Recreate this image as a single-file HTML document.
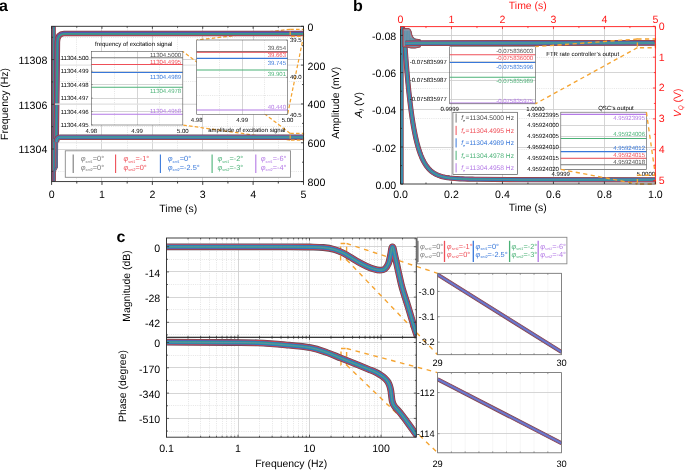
<!DOCTYPE html>
<html><head><meta charset="utf-8"><style>
html,body{margin:0;padding:0;background:#fff;overflow:hidden;}
svg{display:block;will-change:transform;}
text{font-family:"Liberation Sans", sans-serif;text-rendering:geometricPrecision;}
</style></head><body>
<svg width="685" height="470" viewBox="0 0 685 470">
<defs>
<clipPath id="cm"><rect x="166.5" y="238.0" width="249.8" height="99.30000000000001"/></clipPath>
<clipPath id="cp"><rect x="166.5" y="337.3" width="249.8" height="99.89999999999998"/></clipPath>
<clipPath id="ca"><rect x="51.6" y="26.3" width="251.9" height="155.29999999999998"/></clipPath>
<clipPath id="cb"><rect x="400.5" y="26.6" width="254.89999999999998" height="157.4"/></clipPath>
<clipPath id="ci273"><rect x="437.6" y="273.3" width="124" height="81.4"/></clipPath>
<clipPath id="ci372"><rect x="437.6" y="372.6" width="124" height="80.2"/></clipPath>
</defs>
<rect width="685" height="470" fill="#fff"/>
<line x1="76.5" y1="26.3" x2="76.5" y2="181.6" stroke="#dedede" stroke-width="0.8" stroke-dasharray="1,1.2"/>
<line x1="101.5" y1="26.3" x2="101.5" y2="181.6" stroke="#cdcdcd" stroke-width="0.85"/>
<line x1="127.5" y1="26.3" x2="127.5" y2="181.6" stroke="#dedede" stroke-width="0.8" stroke-dasharray="1,1.2"/>
<line x1="152.5" y1="26.3" x2="152.5" y2="181.6" stroke="#cdcdcd" stroke-width="0.85"/>
<line x1="177.5" y1="26.3" x2="177.5" y2="181.6" stroke="#dedede" stroke-width="0.8" stroke-dasharray="1,1.2"/>
<line x1="202.5" y1="26.3" x2="202.5" y2="181.6" stroke="#cdcdcd" stroke-width="0.85"/>
<line x1="227.5" y1="26.3" x2="227.5" y2="181.6" stroke="#dedede" stroke-width="0.8" stroke-dasharray="1,1.2"/>
<line x1="253.5" y1="26.3" x2="253.5" y2="181.6" stroke="#cdcdcd" stroke-width="0.85"/>
<line x1="278.5" y1="26.3" x2="278.5" y2="181.6" stroke="#dedede" stroke-width="0.8" stroke-dasharray="1,1.2"/>
<line x1="51.6" y1="171.5" x2="303.5" y2="171.5" stroke="#dedede" stroke-width="0.8" stroke-dasharray="1,1.2"/>
<line x1="51.6" y1="149.5" x2="303.5" y2="149.5" stroke="#cdcdcd" stroke-width="0.85"/>
<line x1="51.6" y1="126.5" x2="303.5" y2="126.5" stroke="#dedede" stroke-width="0.8" stroke-dasharray="1,1.2"/>
<line x1="51.6" y1="104.5" x2="303.5" y2="104.5" stroke="#cdcdcd" stroke-width="0.85"/>
<line x1="51.6" y1="81.5" x2="303.5" y2="81.5" stroke="#dedede" stroke-width="0.8" stroke-dasharray="1,1.2"/>
<line x1="51.6" y1="59.5" x2="303.5" y2="59.5" stroke="#cdcdcd" stroke-width="0.85"/>
<line x1="51.6" y1="37.5" x2="303.5" y2="37.5" stroke="#dedede" stroke-width="0.8" stroke-dasharray="1,1.2"/>
<line x1="51.6" y1="65.12" x2="303.5" y2="65.12" stroke="#e6e6e6" stroke-width="1.1"/>
<line x1="51.6" y1="103.95" x2="303.5" y2="103.95" stroke="#e6e6e6" stroke-width="1.1"/>
<line x1="51.6" y1="142.77" x2="303.5" y2="142.77" stroke="#e6e6e6" stroke-width="1.1"/>
<line x1="290.2" y1="29.3" x2="196.7" y2="40" stroke="#f5a431" stroke-width="1.25" stroke-dasharray="3.6,2.2"/>
<line x1="303.5" y1="36.3" x2="287.6" y2="114.4" stroke="#f5a431" stroke-width="1.25" stroke-dasharray="3.6,2.2"/>
<line x1="290.2" y1="133.4" x2="182.8" y2="51.4" stroke="#f5a431" stroke-width="1.25" stroke-dasharray="3.6,2.2"/>
<line x1="290.2" y1="140.2" x2="182.8" y2="125" stroke="#f5a431" stroke-width="1.25" stroke-dasharray="3.6,2.2"/>
<g clip-path="url(#ca)">
<path d="M53.8,26.3 L53.8,181.6" stroke="#7a3a48" stroke-width="3.96" fill="none" stroke-linejoin="round" stroke-linecap="butt"/>
<path d="M53.8,26.3 L53.8,181.6" stroke="#b94a5c" stroke-width="3.168" fill="none" stroke-linejoin="round" stroke-linecap="butt"/>
<path d="M53.8,26.3 L53.8,181.6" stroke="#5058b0" stroke-width="2.244" fill="none" stroke-linejoin="round" stroke-linecap="butt" transform="translate(0,-0.3)"/>
<path d="M53.8,26.3 L53.8,181.6" stroke="#3a9a8c" stroke-width="1.32" fill="none" stroke-linejoin="round" stroke-linecap="butt" transform="translate(0,0.3)"/>
</g>
<g clip-path="url(#ca)">
<path d="M56.2,139 L57.1,70 L57.4,42 Q57.6,33.7 64,33.6 L303.5,33.6" stroke="#7a3a48" stroke-width="5.5200000000000005" fill="none" stroke-linejoin="round" stroke-linecap="butt"/>
<path d="M56.2,139 L57.1,70 L57.4,42 Q57.6,33.7 64,33.6 L303.5,33.6" stroke="#b94a5c" stroke-width="4.416" fill="none" stroke-linejoin="round" stroke-linecap="butt"/>
<path d="M56.2,139 L57.1,70 L57.4,42 Q57.6,33.7 64,33.6 L303.5,33.6" stroke="#5058b0" stroke-width="3.128" fill="none" stroke-linejoin="round" stroke-linecap="butt" transform="translate(0,-0.3)"/>
<path d="M56.2,139 L57.1,70 L57.4,42 Q57.6,33.7 64,33.6 L303.5,33.6" stroke="#3a9a8c" stroke-width="1.84" fill="none" stroke-linejoin="round" stroke-linecap="butt" transform="translate(0,0.3)"/>
</g>
<g clip-path="url(#ca)">
<path d="M54.2,181.6 L54.2,172 L56.9,167 L57.1,141.5" stroke="#7a3a48" stroke-width="2.0999999999999996" fill="none" stroke-linejoin="round" stroke-linecap="butt"/>
<path d="M54.2,181.6 L54.2,172 L56.9,167 L57.1,141.5" stroke="#b94a5c" stroke-width="1.68" fill="none" stroke-linejoin="round" stroke-linecap="butt"/>
<path d="M54.2,181.6 L54.2,172 L56.9,167 L57.1,141.5" stroke="#5058b0" stroke-width="1.19" fill="none" stroke-linejoin="round" stroke-linecap="butt" transform="translate(0,-0.3)"/>
<path d="M54.2,181.6 L54.2,172 L56.9,167 L57.1,141.5" stroke="#3a9a8c" stroke-width="0.7" fill="none" stroke-linejoin="round" stroke-linecap="butt" transform="translate(0,0.3)"/>
</g>
<g clip-path="url(#ca)">
<path d="M56.4,142 Q56.8,137.2 60,137.2 L303.5,137.2" stroke="#5e4a55" stroke-width="5.44" fill="none" stroke-linejoin="round" stroke-linecap="butt"/>
<path d="M56.4,142 Q56.8,137.2 60,137.2 L303.5,137.2" stroke="#c9444f" stroke-width="4.4799999999999995" fill="none" stroke-linejoin="round" stroke-linecap="butt"/>
<path d="M56.4,142 Q56.8,137.2 60,137.2 L303.5,137.2" stroke="#2e6fd0" stroke-width="3.2" fill="none" stroke-linejoin="round" stroke-linecap="butt"/>
<path d="M56.4,142 Q56.8,137.2 60,137.2 L303.5,137.2" stroke="#2f9a98" stroke-width="2.08" fill="none" stroke-linejoin="round" stroke-linecap="butt"/>
<path d="M56.4,142 Q56.8,137.2 60,137.2 L303.5,137.2" stroke="#6f8ca0" stroke-width="0.6400000000000001" fill="none" stroke-linejoin="round" stroke-linecap="butt"/>
</g>
<rect x="290.2" y="29.3" width="13.3" height="7" fill="none" stroke="#f5a431" stroke-width="1.25" stroke-dasharray="3.6,2.2"/>
<rect x="290.2" y="133.4" width="13.3" height="6.8" fill="none" stroke="#f5a431" stroke-width="1.25" stroke-dasharray="3.6,2.2"/>
<rect x="91.3" y="51.4" width="91.5" height="73.6" fill="#fff" stroke="none" stroke-width="1"/>
<line x1="114.5" y1="51.4" x2="114.5" y2="125" stroke="#dedede" stroke-width="0.8" stroke-dasharray="1,1.2"/>
<line x1="137.5" y1="51.4" x2="137.5" y2="125" stroke="#cdcdcd" stroke-width="0.85"/>
<line x1="159.5" y1="51.4" x2="159.5" y2="125" stroke="#dedede" stroke-width="0.8" stroke-dasharray="1,1.2"/>
<line x1="55" y1="104.1" x2="182.8" y2="104.1" stroke="#e2e2e2" stroke-width="1.4"/>
<line x1="91.3" y1="71.5" x2="182.8" y2="71.5" stroke="#cdcdcd" stroke-width="0.85"/>
<line x1="91.3" y1="84.5" x2="182.8" y2="84.5" stroke="#cdcdcd" stroke-width="0.85"/>
<line x1="91.3" y1="98.5" x2="182.8" y2="98.5" stroke="#cdcdcd" stroke-width="0.85"/>
<line x1="91.3" y1="111.5" x2="182.8" y2="111.5" stroke="#cdcdcd" stroke-width="0.85"/>
<line x1="91.3" y1="57.7" x2="182.8" y2="57.7" stroke="#7a7a7a" stroke-width="1.1"/>
<text x="181.2" y="57.1" font-size="6.0" text-anchor="end" fill="#4d4d4d">11304.5000</text>
<line x1="91.3" y1="64.43" x2="182.8" y2="64.43" stroke="#ef4f58" stroke-width="1.1"/>
<text x="181.2" y="63.7" font-size="6.0" text-anchor="end" fill="#ef4f58">11304.4995</text>
<line x1="91.3" y1="72.51" x2="182.8" y2="72.51" stroke="#3878da" stroke-width="1.1"/>
<text x="181.2" y="78.5" font-size="6.0" text-anchor="end" fill="#3878da">11304.4989</text>
<line x1="91.3" y1="87.31" x2="182.8" y2="87.31" stroke="#4bb277" stroke-width="1.1"/>
<text x="181.2" y="93.4" font-size="6.0" text-anchor="end" fill="#4bb277">11304.4978</text>
<line x1="91.3" y1="114.23" x2="182.8" y2="114.23" stroke="#b47ae6" stroke-width="1.1"/>
<text x="181.2" y="112.8" font-size="6.0" text-anchor="end" fill="#b47ae6">11304.4958</text>
<rect x="91.3" y="51.4" width="91.5" height="73.6" fill="none" stroke="#555" stroke-width="0.6"/>
<text x="88.6" y="59.8" font-size="6.0" text-anchor="end" fill="#000">11304.500</text>
<line x1="91.3" y1="57.7" x2="92.8" y2="57.7" stroke="#555" stroke-width="0.5"/>
<text x="88.6" y="73.26" font-size="6.0" text-anchor="end" fill="#000">11304.499</text>
<line x1="91.3" y1="71.16" x2="92.8" y2="71.16" stroke="#555" stroke-width="0.5"/>
<text x="88.6" y="86.72" font-size="6.0" text-anchor="end" fill="#000">11304.498</text>
<line x1="91.3" y1="84.62" x2="92.8" y2="84.62" stroke="#555" stroke-width="0.5"/>
<text x="88.6" y="100.18" font-size="6.0" text-anchor="end" fill="#000">11304.497</text>
<line x1="91.3" y1="98.08" x2="92.8" y2="98.08" stroke="#555" stroke-width="0.5"/>
<text x="88.6" y="113.64" font-size="6.0" text-anchor="end" fill="#000">11304.496</text>
<line x1="91.3" y1="111.54" x2="92.8" y2="111.54" stroke="#555" stroke-width="0.5"/>
<text x="88.6" y="127.1" font-size="6.0" text-anchor="end" fill="#000">11304.495</text>
<line x1="91.3" y1="125" x2="92.8" y2="125" stroke="#555" stroke-width="0.5"/>
<text x="91.3" y="132.5" font-size="6.0" text-anchor="middle" fill="#000">4.98</text>
<text x="137.05" y="132.5" font-size="6.0" text-anchor="middle" fill="#000">4.99</text>
<text x="182.8" y="132.5" font-size="6.0" text-anchor="middle" fill="#000">5.00</text>
<text x="133.7" y="45.6" font-size="6.0" text-anchor="middle" fill="#000">frequency of excitation signal</text>
<rect x="196.7" y="40" width="90.9" height="74.4" fill="#fff" stroke="none" stroke-width="1"/>
<line x1="219.5" y1="40" x2="219.5" y2="114.4" stroke="#dedede" stroke-width="0.8" stroke-dasharray="1,1.2"/>
<line x1="242.5" y1="40" x2="242.5" y2="114.4" stroke="#cdcdcd" stroke-width="0.85"/>
<line x1="264.5" y1="40" x2="264.5" y2="114.4" stroke="#dedede" stroke-width="0.8" stroke-dasharray="1,1.2"/>
<line x1="196.7" y1="58.5" x2="287.6" y2="58.5" stroke="#dedede" stroke-width="0.8" stroke-dasharray="1,1.2"/>
<line x1="196.7" y1="95.5" x2="287.6" y2="95.5" stroke="#dedede" stroke-width="0.8" stroke-dasharray="1,1.2"/>
<line x1="196.7" y1="77.5" x2="287.6" y2="77.5" stroke="#cdcdcd" stroke-width="0.85"/>
<line x1="196.7" y1="51.63" x2="287.6" y2="51.63" stroke="#7a7a7a" stroke-width="1.1"/>
<text x="286" y="49.6" font-size="6.0" text-anchor="end" fill="#4d4d4d">39.654</text>
<line x1="196.7" y1="52.29" x2="287.6" y2="52.29" stroke="#ef4f58" stroke-width="1.1"/>
<text x="286" y="56.6" font-size="6.0" text-anchor="end" fill="#ef4f58">39.663</text>
<line x1="196.7" y1="58.38" x2="287.6" y2="58.38" stroke="#3878da" stroke-width="1.1"/>
<text x="286" y="65.4" font-size="6.0" text-anchor="end" fill="#3878da">39.745</text>
<line x1="196.7" y1="69.95" x2="287.6" y2="69.95" stroke="#4bb277" stroke-width="1.1"/>
<text x="286" y="75.9" font-size="6.0" text-anchor="end" fill="#4bb277">39.901</text>
<line x1="196.7" y1="109.95" x2="287.6" y2="109.95" stroke="#b47ae6" stroke-width="1.1"/>
<text x="286" y="109" font-size="6.0" text-anchor="end" fill="#b47ae6">40.440</text>
<rect x="196.7" y="40" width="90.9" height="74.4" fill="none" stroke="#555" stroke-width="0.6"/>
<text x="290" y="42.3" font-size="6.0" text-anchor="start" fill="#000">39.5</text>
<line x1="287.6" y1="40.2" x2="286.1" y2="40.2" stroke="#555" stroke-width="0.5"/>
<text x="290" y="79.4" font-size="6.0" text-anchor="start" fill="#000">40.0</text>
<line x1="287.6" y1="77.3" x2="286.1" y2="77.3" stroke="#555" stroke-width="0.5"/>
<text x="290" y="116.5" font-size="6.0" text-anchor="start" fill="#000">40.5</text>
<line x1="287.6" y1="114.4" x2="286.1" y2="114.4" stroke="#555" stroke-width="0.5"/>
<text x="196.7" y="121.9" font-size="6.0" text-anchor="middle" fill="#000">4.98</text>
<text x="242.15" y="121.9" font-size="6.0" text-anchor="middle" fill="#000">4.99</text>
<text x="287.6" y="121.9" font-size="6.0" text-anchor="middle" fill="#000">5.00</text>
<text x="246.8" y="132.3" font-size="6.0" text-anchor="middle" fill="#000">amplitude of excitation signal</text>
<rect x="65.3" y="150.8" width="225.2" height="26.5" fill="#fff" stroke="#8a8a8a" stroke-width="0.9"/>
<line x1="73.2" y1="154.4" x2="73.2" y2="173" stroke="#7a7a7a" stroke-width="1.1"/>
<text x="80.7" y="161.2" font-size="7.4" fill="#7a7a7a"><tspan font-style="italic">φ</tspan><tspan font-size="3.8" font-style="italic" dy="1.6">set1</tspan><tspan dy="-1.6">=0°</tspan></text>
<text x="80.7" y="169.8" font-size="7.4" fill="#7a7a7a"><tspan font-style="italic">φ</tspan><tspan font-size="3.8" font-style="italic" dy="1.6">set2</tspan><tspan dy="-1.6">=0°</tspan></text>
<line x1="115.6" y1="154.4" x2="115.6" y2="173" stroke="#ef4f58" stroke-width="1.1"/>
<text x="123.4" y="161.2" font-size="7.4" fill="#ef4f58"><tspan font-style="italic">φ</tspan><tspan font-size="3.8" font-style="italic" dy="1.6">set1</tspan><tspan dy="-1.6">=-1°</tspan></text>
<text x="123.4" y="169.8" font-size="7.4" fill="#ef4f58"><tspan font-style="italic">φ</tspan><tspan font-size="3.8" font-style="italic" dy="1.6">set2</tspan><tspan dy="-1.6">=0°</tspan></text>
<line x1="160.4" y1="154.4" x2="160.4" y2="173" stroke="#3878da" stroke-width="1.1"/>
<text x="167.7" y="161.2" font-size="7.4" fill="#3878da"><tspan font-style="italic">φ</tspan><tspan font-size="3.8" font-style="italic" dy="1.6">set1</tspan><tspan dy="-1.6">=0°</tspan></text>
<text x="167.7" y="169.8" font-size="7.4" fill="#3878da"><tspan font-style="italic">φ</tspan><tspan font-size="3.8" font-style="italic" dy="1.6">set2</tspan><tspan dy="-1.6">=-2.5°</tspan></text>
<line x1="212.1" y1="154.4" x2="212.1" y2="173" stroke="#4bb277" stroke-width="1.1"/>
<text x="217.4" y="161.2" font-size="7.4" fill="#4bb277"><tspan font-style="italic">φ</tspan><tspan font-size="3.8" font-style="italic" dy="1.6">set1</tspan><tspan dy="-1.6">=-2°</tspan></text>
<text x="217.4" y="169.8" font-size="7.4" fill="#4bb277"><tspan font-style="italic">φ</tspan><tspan font-size="3.8" font-style="italic" dy="1.6">set2</tspan><tspan dy="-1.6">=-3°</tspan></text>
<line x1="255.8" y1="154.4" x2="255.8" y2="173" stroke="#b47ae6" stroke-width="1.1"/>
<text x="260.7" y="161.2" font-size="7.4" fill="#b47ae6"><tspan font-style="italic">φ</tspan><tspan font-size="3.8" font-style="italic" dy="1.6">set1</tspan><tspan dy="-1.6">=-6°</tspan></text>
<text x="260.7" y="169.8" font-size="7.4" fill="#b47ae6"><tspan font-style="italic">φ</tspan><tspan font-size="3.8" font-style="italic" dy="1.6">set2</tspan><tspan dy="-1.6">=-4°</tspan></text>
<rect x="51.6" y="26.3" width="251.9" height="155.3" fill="none" stroke="#2a2a2a" stroke-width="0.9"/>
<line x1="51.6" y1="181.6" x2="51.6" y2="184.9" stroke="#2a2a2a" stroke-width="0.9"/>
<line x1="51.6" y1="26.3" x2="51.6" y2="28.8" stroke="#2a2a2a" stroke-width="0.8"/>
<line x1="76.79" y1="181.6" x2="76.79" y2="183.5" stroke="#2a2a2a" stroke-width="0.9"/>
<line x1="76.79" y1="26.3" x2="76.79" y2="27.8" stroke="#2a2a2a" stroke-width="0.8"/>
<line x1="101.98" y1="181.6" x2="101.98" y2="184.9" stroke="#2a2a2a" stroke-width="0.9"/>
<line x1="101.98" y1="26.3" x2="101.98" y2="28.8" stroke="#2a2a2a" stroke-width="0.8"/>
<line x1="127.17" y1="181.6" x2="127.17" y2="183.5" stroke="#2a2a2a" stroke-width="0.9"/>
<line x1="127.17" y1="26.3" x2="127.17" y2="27.8" stroke="#2a2a2a" stroke-width="0.8"/>
<line x1="152.36" y1="181.6" x2="152.36" y2="184.9" stroke="#2a2a2a" stroke-width="0.9"/>
<line x1="152.36" y1="26.3" x2="152.36" y2="28.8" stroke="#2a2a2a" stroke-width="0.8"/>
<line x1="177.55" y1="181.6" x2="177.55" y2="183.5" stroke="#2a2a2a" stroke-width="0.9"/>
<line x1="177.55" y1="26.3" x2="177.55" y2="27.8" stroke="#2a2a2a" stroke-width="0.8"/>
<line x1="202.74" y1="181.6" x2="202.74" y2="184.9" stroke="#2a2a2a" stroke-width="0.9"/>
<line x1="202.74" y1="26.3" x2="202.74" y2="28.8" stroke="#2a2a2a" stroke-width="0.8"/>
<line x1="227.93" y1="181.6" x2="227.93" y2="183.5" stroke="#2a2a2a" stroke-width="0.9"/>
<line x1="227.93" y1="26.3" x2="227.93" y2="27.8" stroke="#2a2a2a" stroke-width="0.8"/>
<line x1="253.12" y1="181.6" x2="253.12" y2="184.9" stroke="#2a2a2a" stroke-width="0.9"/>
<line x1="253.12" y1="26.3" x2="253.12" y2="28.8" stroke="#2a2a2a" stroke-width="0.8"/>
<line x1="278.31" y1="181.6" x2="278.31" y2="183.5" stroke="#2a2a2a" stroke-width="0.9"/>
<line x1="278.31" y1="26.3" x2="278.31" y2="27.8" stroke="#2a2a2a" stroke-width="0.8"/>
<line x1="303.5" y1="181.6" x2="303.5" y2="184.9" stroke="#2a2a2a" stroke-width="0.9"/>
<line x1="303.5" y1="26.3" x2="303.5" y2="28.8" stroke="#2a2a2a" stroke-width="0.8"/>
<line x1="51.6" y1="171.35" x2="53.1" y2="171.35" stroke="#2a2a2a" stroke-width="0.8"/>
<line x1="51.6" y1="149" x2="54.1" y2="149" stroke="#2a2a2a" stroke-width="0.8"/>
<line x1="51.6" y1="126.65" x2="53.1" y2="126.65" stroke="#2a2a2a" stroke-width="0.8"/>
<line x1="51.6" y1="104.3" x2="54.1" y2="104.3" stroke="#2a2a2a" stroke-width="0.8"/>
<line x1="51.6" y1="81.95" x2="53.1" y2="81.95" stroke="#2a2a2a" stroke-width="0.8"/>
<line x1="51.6" y1="59.6" x2="54.1" y2="59.6" stroke="#2a2a2a" stroke-width="0.8"/>
<line x1="51.6" y1="37.25" x2="53.1" y2="37.25" stroke="#2a2a2a" stroke-width="0.8"/>
<line x1="303.5" y1="26.3" x2="301" y2="26.3" stroke="#2a2a2a" stroke-width="0.8"/>
<line x1="303.5" y1="45.71" x2="302" y2="45.71" stroke="#2a2a2a" stroke-width="0.8"/>
<line x1="303.5" y1="65.12" x2="301" y2="65.12" stroke="#2a2a2a" stroke-width="0.8"/>
<line x1="303.5" y1="84.54" x2="302" y2="84.54" stroke="#2a2a2a" stroke-width="0.8"/>
<line x1="303.5" y1="103.95" x2="301" y2="103.95" stroke="#2a2a2a" stroke-width="0.8"/>
<line x1="303.5" y1="123.36" x2="302" y2="123.36" stroke="#2a2a2a" stroke-width="0.8"/>
<line x1="303.5" y1="142.77" x2="301" y2="142.77" stroke="#2a2a2a" stroke-width="0.8"/>
<line x1="303.5" y1="162.19" x2="302" y2="162.19" stroke="#2a2a2a" stroke-width="0.8"/>
<line x1="303.5" y1="181.6" x2="301" y2="181.6" stroke="#2a2a2a" stroke-width="0.8"/>
<text x="51.6" y="197.8" font-size="10.6" text-anchor="middle" fill="#000">0</text>
<text x="101.98" y="197.8" font-size="10.6" text-anchor="middle" fill="#000">1</text>
<text x="152.36" y="197.8" font-size="10.6" text-anchor="middle" fill="#000">2</text>
<text x="202.74" y="197.8" font-size="10.6" text-anchor="middle" fill="#000">3</text>
<text x="253.12" y="197.8" font-size="10.6" text-anchor="middle" fill="#000">4</text>
<text x="303.5" y="197.8" font-size="10.6" text-anchor="middle" fill="#000">5</text>
<text x="47.3" y="153.3" font-size="10.6" text-anchor="end" fill="#000">11304</text>
<text x="47.3" y="108.6" font-size="10.6" text-anchor="end" fill="#000">11306</text>
<text x="47.3" y="63.9" font-size="10.6" text-anchor="end" fill="#000">11308</text>
<text x="307.6" y="30.7" font-size="10.6" text-anchor="start" fill="#000">0</text>
<text x="307.6" y="69.53" font-size="10.6" text-anchor="start" fill="#000">200</text>
<text x="307.6" y="108.35" font-size="10.6" text-anchor="start" fill="#000">400</text>
<text x="307.6" y="147.17" font-size="10.6" text-anchor="start" fill="#000">600</text>
<text x="307.6" y="186" font-size="10.6" text-anchor="start" fill="#000">800</text>
<text x="178.3" y="211.8" font-size="10.45" text-anchor="middle" fill="#000">Time (s)</text>
<text x="8.3" y="139.9" font-size="10.45" text-anchor="start" fill="#000" transform="rotate(-90 8.3 139.9)">Frequency (Hz)</text>
<text x="339.3" y="138.8" font-size="10.45" text-anchor="start" fill="#000" transform="rotate(-90 339.3 138.8)">Amplitude (mV)</text>
<text x="-1.1" y="10.7" font-size="16" text-anchor="start" fill="#000" font-weight="bold">a</text>
<line x1="400.5" y1="57.5" x2="655.4" y2="57.5" stroke="#dedede" stroke-width="0.8" stroke-dasharray="1,1.2"/>
<line x1="400.5" y1="88.5" x2="655.4" y2="88.5" stroke="#dedede" stroke-width="0.8" stroke-dasharray="1,1.2"/>
<line x1="400.5" y1="118.5" x2="655.4" y2="118.5" stroke="#dedede" stroke-width="0.8" stroke-dasharray="1,1.2"/>
<line x1="400.5" y1="149.5" x2="655.4" y2="149.5" stroke="#dedede" stroke-width="0.8" stroke-dasharray="1,1.2"/>
<rect x="449.7" y="46.7" width="85.7" height="57.1" fill="#fff" stroke="none" stroke-width="1"/>
<rect x="560.8" y="112.2" width="85.6" height="57.2" fill="#fff" stroke="none" stroke-width="1"/>
<line x1="451.5" y1="26.6" x2="451.5" y2="184" stroke="#cdcdcd" stroke-width="0.85"/>
<line x1="502.5" y1="26.6" x2="502.5" y2="184" stroke="#cdcdcd" stroke-width="0.85"/>
<line x1="553.5" y1="26.6" x2="553.5" y2="184" stroke="#cdcdcd" stroke-width="0.85"/>
<line x1="604.5" y1="26.6" x2="604.5" y2="184" stroke="#cdcdcd" stroke-width="0.85"/>
<line x1="400.5" y1="147.5" x2="655.4" y2="147.5" stroke="#cdcdcd" stroke-width="0.85"/>
<line x1="400.5" y1="109.5" x2="655.4" y2="109.5" stroke="#cdcdcd" stroke-width="0.85"/>
<line x1="400.5" y1="72.5" x2="655.4" y2="72.5" stroke="#cdcdcd" stroke-width="0.85"/>
<line x1="400.5" y1="35.5" x2="655.4" y2="35.5" stroke="#cdcdcd" stroke-width="0.85"/>
<g clip-path="url(#cb)">
<path d="M402.3,26 L403,32 L403.8,39.5 L404.6,40.44 L404.9,44.88 L405.2,49.18 L405.5,53.34 L405.8,57.38 L406.1,61.28 L406.4,65.06 L406.7,68.72 L407,72.26 L407.3,75.69 L407.6,79.01 L407.9,82.23 L408.2,85.34 L408.5,88.35 L408.8,91.26 L409.1,94.08 L409.4,96.81 L409.7,99.46 L410,102.02 L410.3,104.49 L410.6,106.89 L410.9,109.21 L411.2,111.45 L411.5,113.62 L411.8,115.72 L412.1,117.76 L412.4,119.73 L412.7,121.63 L413,123.47 L413.3,125.26 L413.6,126.98 L413.9,128.65 L414.2,130.27 L414.5,131.83 L414.8,133.34 L415.1,134.81 L415.4,136.22 L415.7,137.59 L416,138.92 L416.8,142.25 L417.6,145.3 L418.4,148.09 L419.2,150.65 L420,152.99 L420.8,155.14 L421.6,157.1 L422.4,158.91 L423.2,160.56 L424,162.07 L424.8,163.46 L425.6,164.73 L426.4,165.89 L427.2,166.96 L428,167.94 L428.8,168.84 L429.6,169.67 L430.4,170.43 L431.2,171.12 L432,171.76 L432.8,172.35 L433.6,172.89 L434.4,173.39 L435.2,173.84 L436,174.26 L436.8,174.65 L437.6,175 L438.4,175.33 L439.2,175.63 L440,175.91 L442.5,176.65 L445,177.22 L447.5,177.67 L450,178.03 L452.5,178.3 L455,178.52 L457.5,178.7 L460,178.84 L462.5,178.95 L465,179.03 L467.5,179.1 L470,179.15 L472.5,179.19 L475,179.22 L477.5,179.23 L520,179.7 L655.4,179.8" stroke="#5e4a55" stroke-width="5.168" fill="none" stroke-linejoin="round" stroke-linecap="butt"/>
<path d="M402.3,26 L403,32 L403.8,39.5 L404.6,40.44 L404.9,44.88 L405.2,49.18 L405.5,53.34 L405.8,57.38 L406.1,61.28 L406.4,65.06 L406.7,68.72 L407,72.26 L407.3,75.69 L407.6,79.01 L407.9,82.23 L408.2,85.34 L408.5,88.35 L408.8,91.26 L409.1,94.08 L409.4,96.81 L409.7,99.46 L410,102.02 L410.3,104.49 L410.6,106.89 L410.9,109.21 L411.2,111.45 L411.5,113.62 L411.8,115.72 L412.1,117.76 L412.4,119.73 L412.7,121.63 L413,123.47 L413.3,125.26 L413.6,126.98 L413.9,128.65 L414.2,130.27 L414.5,131.83 L414.8,133.34 L415.1,134.81 L415.4,136.22 L415.7,137.59 L416,138.92 L416.8,142.25 L417.6,145.3 L418.4,148.09 L419.2,150.65 L420,152.99 L420.8,155.14 L421.6,157.1 L422.4,158.91 L423.2,160.56 L424,162.07 L424.8,163.46 L425.6,164.73 L426.4,165.89 L427.2,166.96 L428,167.94 L428.8,168.84 L429.6,169.67 L430.4,170.43 L431.2,171.12 L432,171.76 L432.8,172.35 L433.6,172.89 L434.4,173.39 L435.2,173.84 L436,174.26 L436.8,174.65 L437.6,175 L438.4,175.33 L439.2,175.63 L440,175.91 L442.5,176.65 L445,177.22 L447.5,177.67 L450,178.03 L452.5,178.3 L455,178.52 L457.5,178.7 L460,178.84 L462.5,178.95 L465,179.03 L467.5,179.1 L470,179.15 L472.5,179.19 L475,179.22 L477.5,179.23 L520,179.7 L655.4,179.8" stroke="#c9444f" stroke-width="4.255999999999999" fill="none" stroke-linejoin="round" stroke-linecap="butt"/>
<path d="M402.3,26 L403,32 L403.8,39.5 L404.6,40.44 L404.9,44.88 L405.2,49.18 L405.5,53.34 L405.8,57.38 L406.1,61.28 L406.4,65.06 L406.7,68.72 L407,72.26 L407.3,75.69 L407.6,79.01 L407.9,82.23 L408.2,85.34 L408.5,88.35 L408.8,91.26 L409.1,94.08 L409.4,96.81 L409.7,99.46 L410,102.02 L410.3,104.49 L410.6,106.89 L410.9,109.21 L411.2,111.45 L411.5,113.62 L411.8,115.72 L412.1,117.76 L412.4,119.73 L412.7,121.63 L413,123.47 L413.3,125.26 L413.6,126.98 L413.9,128.65 L414.2,130.27 L414.5,131.83 L414.8,133.34 L415.1,134.81 L415.4,136.22 L415.7,137.59 L416,138.92 L416.8,142.25 L417.6,145.3 L418.4,148.09 L419.2,150.65 L420,152.99 L420.8,155.14 L421.6,157.1 L422.4,158.91 L423.2,160.56 L424,162.07 L424.8,163.46 L425.6,164.73 L426.4,165.89 L427.2,166.96 L428,167.94 L428.8,168.84 L429.6,169.67 L430.4,170.43 L431.2,171.12 L432,171.76 L432.8,172.35 L433.6,172.89 L434.4,173.39 L435.2,173.84 L436,174.26 L436.8,174.65 L437.6,175 L438.4,175.33 L439.2,175.63 L440,175.91 L442.5,176.65 L445,177.22 L447.5,177.67 L450,178.03 L452.5,178.3 L455,178.52 L457.5,178.7 L460,178.84 L462.5,178.95 L465,179.03 L467.5,179.1 L470,179.15 L472.5,179.19 L475,179.22 L477.5,179.23 L520,179.7 L655.4,179.8" stroke="#2e6fd0" stroke-width="3.04" fill="none" stroke-linejoin="round" stroke-linecap="butt"/>
<path d="M402.3,26 L403,32 L403.8,39.5 L404.6,40.44 L404.9,44.88 L405.2,49.18 L405.5,53.34 L405.8,57.38 L406.1,61.28 L406.4,65.06 L406.7,68.72 L407,72.26 L407.3,75.69 L407.6,79.01 L407.9,82.23 L408.2,85.34 L408.5,88.35 L408.8,91.26 L409.1,94.08 L409.4,96.81 L409.7,99.46 L410,102.02 L410.3,104.49 L410.6,106.89 L410.9,109.21 L411.2,111.45 L411.5,113.62 L411.8,115.72 L412.1,117.76 L412.4,119.73 L412.7,121.63 L413,123.47 L413.3,125.26 L413.6,126.98 L413.9,128.65 L414.2,130.27 L414.5,131.83 L414.8,133.34 L415.1,134.81 L415.4,136.22 L415.7,137.59 L416,138.92 L416.8,142.25 L417.6,145.3 L418.4,148.09 L419.2,150.65 L420,152.99 L420.8,155.14 L421.6,157.1 L422.4,158.91 L423.2,160.56 L424,162.07 L424.8,163.46 L425.6,164.73 L426.4,165.89 L427.2,166.96 L428,167.94 L428.8,168.84 L429.6,169.67 L430.4,170.43 L431.2,171.12 L432,171.76 L432.8,172.35 L433.6,172.89 L434.4,173.39 L435.2,173.84 L436,174.26 L436.8,174.65 L437.6,175 L438.4,175.33 L439.2,175.63 L440,175.91 L442.5,176.65 L445,177.22 L447.5,177.67 L450,178.03 L452.5,178.3 L455,178.52 L457.5,178.7 L460,178.84 L462.5,178.95 L465,179.03 L467.5,179.1 L470,179.15 L472.5,179.19 L475,179.22 L477.5,179.23 L520,179.7 L655.4,179.8" stroke="#2f9a98" stroke-width="1.9760000000000002" fill="none" stroke-linejoin="round" stroke-linecap="butt"/>
<path d="M402.3,26 L403,32 L403.8,39.5 L404.6,40.44 L404.9,44.88 L405.2,49.18 L405.5,53.34 L405.8,57.38 L406.1,61.28 L406.4,65.06 L406.7,68.72 L407,72.26 L407.3,75.69 L407.6,79.01 L407.9,82.23 L408.2,85.34 L408.5,88.35 L408.8,91.26 L409.1,94.08 L409.4,96.81 L409.7,99.46 L410,102.02 L410.3,104.49 L410.6,106.89 L410.9,109.21 L411.2,111.45 L411.5,113.62 L411.8,115.72 L412.1,117.76 L412.4,119.73 L412.7,121.63 L413,123.47 L413.3,125.26 L413.6,126.98 L413.9,128.65 L414.2,130.27 L414.5,131.83 L414.8,133.34 L415.1,134.81 L415.4,136.22 L415.7,137.59 L416,138.92 L416.8,142.25 L417.6,145.3 L418.4,148.09 L419.2,150.65 L420,152.99 L420.8,155.14 L421.6,157.1 L422.4,158.91 L423.2,160.56 L424,162.07 L424.8,163.46 L425.6,164.73 L426.4,165.89 L427.2,166.96 L428,167.94 L428.8,168.84 L429.6,169.67 L430.4,170.43 L431.2,171.12 L432,171.76 L432.8,172.35 L433.6,172.89 L434.4,173.39 L435.2,173.84 L436,174.26 L436.8,174.65 L437.6,175 L438.4,175.33 L439.2,175.63 L440,175.91 L442.5,176.65 L445,177.22 L447.5,177.67 L450,178.03 L452.5,178.3 L455,178.52 L457.5,178.7 L460,178.84 L462.5,178.95 L465,179.03 L467.5,179.1 L470,179.15 L472.5,179.19 L475,179.22 L477.5,179.23 L520,179.7 L655.4,179.8" stroke="#6f8ca0" stroke-width="0.6080000000000001" fill="none" stroke-linejoin="round" stroke-linecap="butt"/>
</g>
<g clip-path="url(#cb)">
<path d="M401.9,184.0 L401.9,26.6" stroke="#5e4a55" stroke-width="3.4" fill="none" stroke-linejoin="round" stroke-linecap="butt"/>
<path d="M401.9,184.0 L401.9,26.6" stroke="#c9444f" stroke-width="2.8" fill="none" stroke-linejoin="round" stroke-linecap="butt"/>
<path d="M401.9,184.0 L401.9,26.6" stroke="#2e6fd0" stroke-width="2.0" fill="none" stroke-linejoin="round" stroke-linecap="butt"/>
<path d="M401.9,184.0 L401.9,26.6" stroke="#2f9a98" stroke-width="1.3" fill="none" stroke-linejoin="round" stroke-linecap="butt"/>
<path d="M401.9,184.0 L401.9,26.6" stroke="#6f8ca0" stroke-width="0.4" fill="none" stroke-linejoin="round" stroke-linecap="butt"/>
</g>
<g clip-path="url(#cb)">
<path d="M403.2,28.9 L408.6,28.8 Q410,29 410.8,31.5 L411.6,35 Q412.6,38.6 415,39.4 L420,40.0 L420,46.6 L415,47.8 L411,47.6 L407,46.8 L403.2,46.4 Z" fill="#7f97ad" stroke="#5a4a52" stroke-width="1.6" stroke-linejoin="round"/>
<path d="M403.2,28.9 L408.6,28.8 Q410,29 410.8,31.5 L411.6,35 Q412.6,38.6 415,39.4 L420,40.0 L420,46.6 L415,47.8 L411,47.6 L407,46.8 L403.2,46.4 Z" fill="#7f97ad" stroke="#c9444f" stroke-width="0.8" stroke-linejoin="round"/>
<line x1="404.6" y1="31.0" x2="405.2" y2="46" stroke="#3a8fa8" stroke-width="0.6" opacity="0.8"/>
<line x1="406.1" y1="31.0" x2="406.7" y2="46" stroke="#3a8fa8" stroke-width="0.6" opacity="0.8"/>
<line x1="407.6" y1="31.0" x2="408.2" y2="46" stroke="#3a8fa8" stroke-width="0.6" opacity="0.8"/>
<line x1="409.1" y1="31.0" x2="409.7" y2="46" stroke="#3a8fa8" stroke-width="0.6" opacity="0.8"/>
<line x1="410.6" y1="38.0" x2="411.2" y2="46" stroke="#3a8fa8" stroke-width="0.6" opacity="0.8"/>
<line x1="412.1" y1="38.0" x2="412.7" y2="46" stroke="#3a8fa8" stroke-width="0.6" opacity="0.8"/>
<line x1="413.6" y1="38.0" x2="414.2" y2="46" stroke="#3a8fa8" stroke-width="0.6" opacity="0.8"/>
<line x1="415.1" y1="38.0" x2="415.7" y2="46" stroke="#3a8fa8" stroke-width="0.6" opacity="0.8"/>
</g>
<g clip-path="url(#cb)">
<path d="M405.5,43.4 L420,43.1 L655.4,42.9" stroke="#5e4a55" stroke-width="5.848" fill="none" stroke-linejoin="round" stroke-linecap="butt"/>
<path d="M405.5,43.4 L420,43.1 L655.4,42.9" stroke="#c9444f" stroke-width="4.816" fill="none" stroke-linejoin="round" stroke-linecap="butt"/>
<path d="M405.5,43.4 L420,43.1 L655.4,42.9" stroke="#2e6fd0" stroke-width="3.44" fill="none" stroke-linejoin="round" stroke-linecap="butt"/>
<path d="M405.5,43.4 L420,43.1 L655.4,42.9" stroke="#2f9a98" stroke-width="2.236" fill="none" stroke-linejoin="round" stroke-linecap="butt"/>
<path d="M405.5,43.4 L420,43.1 L655.4,42.9" stroke="#6f8ca0" stroke-width="0.6880000000000001" fill="none" stroke-linejoin="round" stroke-linecap="butt"/>
</g>
<line x1="449.7" y1="61.5" x2="535.4" y2="61.5" stroke="#cdcdcd" stroke-width="0.85"/>
<line x1="449.7" y1="80.5" x2="535.4" y2="80.5" stroke="#cdcdcd" stroke-width="0.85"/>
<line x1="449.7" y1="99.5" x2="535.4" y2="99.5" stroke="#cdcdcd" stroke-width="0.85"/>
<text x="533.2" y="53.3" font-size="6.0" text-anchor="end" fill="#4d4d4d">-0.075836003</text>
<line x1="449.7" y1="54.8" x2="535.4" y2="54.8" stroke="#ef4f58" stroke-width="1.1"/>
<text x="533.2" y="60.3" font-size="6.0" text-anchor="end" fill="#ef4f58">-0.075836000</text>
<line x1="449.7" y1="62.53" x2="535.4" y2="62.53" stroke="#3878da" stroke-width="1.1"/>
<text x="533.2" y="68.5" font-size="6.0" text-anchor="end" fill="#3878da">-0.075835996</text>
<line x1="449.7" y1="77.23" x2="535.4" y2="77.23" stroke="#4bb277" stroke-width="1.1"/>
<text x="533.2" y="83.1" font-size="6.0" text-anchor="end" fill="#4bb277">-0.075835989</text>
<line x1="449.7" y1="103.06" x2="535.4" y2="103.06" stroke="#b47ae6" stroke-width="1.1"/>
<text x="533.2" y="102.5" font-size="6.0" text-anchor="end" fill="#b47ae6">-0.075835975</text>
<rect x="449.7" y="46.7" width="85.7" height="57.1" fill="none" stroke="#555" stroke-width="0.6"/>
<text x="446.8" y="63.5" font-size="6.0" text-anchor="end" fill="#000">-0.075835997</text>
<text x="446.8" y="82.35" font-size="6.0" text-anchor="end" fill="#000">-0.075835987</text>
<text x="446.8" y="101.2" font-size="6.0" text-anchor="end" fill="#000">-0.075835977</text>
<text x="449.7" y="110.6" font-size="6.0" text-anchor="middle" fill="#000">0.9999</text>
<text x="535.4" y="110.6" font-size="6.0" text-anchor="middle" fill="#000">1.0000</text>
<text x="582.7" y="56.4" font-size="6.0" text-anchor="middle" fill="#000">FTR rate controller’s output</text>
<line x1="560.8" y1="125.5" x2="646.4" y2="125.5" stroke="#cdcdcd" stroke-width="0.85"/>
<line x1="560.8" y1="136.5" x2="646.4" y2="136.5" stroke="#cdcdcd" stroke-width="0.85"/>
<line x1="560.8" y1="147.5" x2="646.4" y2="147.5" stroke="#cdcdcd" stroke-width="0.85"/>
<line x1="560.8" y1="158.5" x2="646.4" y2="158.5" stroke="#cdcdcd" stroke-width="0.85"/>
<line x1="560.8" y1="169.5" x2="646.4" y2="169.5" stroke="#cdcdcd" stroke-width="0.85"/>
<line x1="560.8" y1="164.77" x2="646.4" y2="164.77" stroke="#7a7a7a" stroke-width="1.1"/>
<text x="645" y="163.8" font-size="6.0" text-anchor="end" fill="#4d4d4d">4.95924018</text>
<line x1="560.8" y1="158.2" x2="646.4" y2="158.2" stroke="#ef4f58" stroke-width="1.1"/>
<text x="645" y="157.3" font-size="6.0" text-anchor="end" fill="#ef4f58">4.95924015</text>
<line x1="560.8" y1="151.63" x2="646.4" y2="151.63" stroke="#3878da" stroke-width="1.1"/>
<text x="645" y="150.2" font-size="6.0" text-anchor="end" fill="#3878da">4.95924012</text>
<line x1="560.8" y1="138.49" x2="646.4" y2="138.49" stroke="#4bb277" stroke-width="1.1"/>
<text x="645" y="136.3" font-size="6.0" text-anchor="end" fill="#4bb277">4.95924006</text>
<line x1="560.8" y1="114.4" x2="646.4" y2="114.4" stroke="#b47ae6" stroke-width="1.1"/>
<text x="645" y="120" font-size="6.0" text-anchor="end" fill="#b47ae6">4.95923995</text>
<rect x="560.8" y="112.2" width="85.6" height="57.2" fill="none" stroke="#555" stroke-width="0.6"/>
<text x="558.9" y="116.5" font-size="6.0" text-anchor="end" fill="#000">4.95923995</text>
<text x="558.9" y="127.45" font-size="6.0" text-anchor="end" fill="#000">4.95924000</text>
<text x="558.9" y="138.4" font-size="6.0" text-anchor="end" fill="#000">4.95924005</text>
<text x="558.9" y="149.35" font-size="6.0" text-anchor="end" fill="#000">4.95924010</text>
<text x="558.9" y="160.3" font-size="6.0" text-anchor="end" fill="#000">4.95924015</text>
<text x="558.9" y="171.25" font-size="6.0" text-anchor="end" fill="#000">4.95924020</text>
<text x="560.8" y="176.1" font-size="6.0" text-anchor="middle" fill="#000">4.9999</text>
<text x="645.9" y="176.1" font-size="6.0" text-anchor="middle" fill="#000">5.0000</text>
<text x="616" y="110.4" font-size="6.0" text-anchor="middle" fill="#000">QSC’s output</text>
<rect x="452.9" y="112.3" width="64.5" height="62.1" fill="#fff" stroke="#555" stroke-width="0.7"/>
<line x1="456.1" y1="113.4" x2="456.1" y2="122.6" stroke="#7a7a7a" stroke-width="1.0"/>
<text x="461.2" y="120.35" font-size="6.65" fill="#4a4a4a"><tspan font-style="italic">f</tspan><tspan font-size="3.9" font-style="italic" dy="1.4">e</tspan><tspan dy="-1.4" dx="0.3">=11304.5000 Hz</tspan></text>
<line x1="456.1" y1="125.85" x2="456.1" y2="135.05" stroke="#ef4f58" stroke-width="1.0"/>
<text x="461.2" y="132.8" font-size="6.65" fill="#ef4f58"><tspan font-style="italic">f</tspan><tspan font-size="3.9" font-style="italic" dy="1.4">e</tspan><tspan dy="-1.4" dx="0.3">=11304.4995 Hz</tspan></text>
<line x1="456.1" y1="138.3" x2="456.1" y2="147.5" stroke="#3878da" stroke-width="1.0"/>
<text x="461.2" y="145.25" font-size="6.65" fill="#3878da"><tspan font-style="italic">f</tspan><tspan font-size="3.9" font-style="italic" dy="1.4">e</tspan><tspan dy="-1.4" dx="0.3">=11304.4989 Hz</tspan></text>
<line x1="456.1" y1="150.75" x2="456.1" y2="159.95" stroke="#4bb277" stroke-width="1.0"/>
<text x="461.2" y="157.7" font-size="6.65" fill="#4bb277"><tspan font-style="italic">f</tspan><tspan font-size="3.9" font-style="italic" dy="1.4">e</tspan><tspan dy="-1.4" dx="0.3">=11304.4978 Hz</tspan></text>
<line x1="456.1" y1="163.2" x2="456.1" y2="172.4" stroke="#b47ae6" stroke-width="1.0"/>
<text x="461.2" y="170.15" font-size="6.65" fill="#b47ae6"><tspan font-style="italic">f</tspan><tspan font-size="3.9" font-style="italic" dy="1.4">e</tspan><tspan dy="-1.4" dx="0.3">=11304.4958 Hz</tspan></text>
<rect x="637.4" y="39" width="18" height="8.7" fill="none" stroke="#f5a431" stroke-width="1.35" stroke-dasharray="4.2,3.4"/>
<line x1="637.4" y1="39" x2="535.4" y2="46.7" stroke="#f5a431" stroke-width="1.35" stroke-dasharray="4.2,3.4"/>
<line x1="637.4" y1="47.7" x2="535.4" y2="103.8" stroke="#f5a431" stroke-width="1.35" stroke-dasharray="4.2,3.4"/>
<rect x="637.4" y="175.2" width="18" height="8.8" fill="none" stroke="#f5a431" stroke-width="1.35" stroke-dasharray="4.2,3.4"/>
<line x1="560.8" y1="169.4" x2="637.4" y2="184" stroke="#f5a431" stroke-width="1.35" stroke-dasharray="4.2,3.4"/>
<line x1="646.4" y1="112.2" x2="655.4" y2="175.2" stroke="#f5a431" stroke-width="1.35" stroke-dasharray="4.2,3.4"/>
<line x1="400.5" y1="184" x2="655.4" y2="184" stroke="#2a2a2a" stroke-width="0.9"/>
<line x1="400.5" y1="26.6" x2="400.5" y2="184" stroke="#2a2a2a" stroke-width="0.9"/>
<line x1="400.5" y1="26.6" x2="655.4" y2="26.6" stroke="#ff1a1a" stroke-width="0.9"/>
<line x1="655.4" y1="26.6" x2="655.4" y2="184" stroke="#ff1a1a" stroke-width="0.9"/>
<line x1="400.5" y1="184" x2="400.5" y2="181.5" stroke="#2a2a2a" stroke-width="0.8"/>
<line x1="425.99" y1="184" x2="425.99" y2="182.5" stroke="#2a2a2a" stroke-width="0.8"/>
<line x1="451.48" y1="184" x2="451.48" y2="181.5" stroke="#2a2a2a" stroke-width="0.8"/>
<line x1="476.97" y1="184" x2="476.97" y2="182.5" stroke="#2a2a2a" stroke-width="0.8"/>
<line x1="502.46" y1="184" x2="502.46" y2="181.5" stroke="#2a2a2a" stroke-width="0.8"/>
<line x1="527.95" y1="184" x2="527.95" y2="182.5" stroke="#2a2a2a" stroke-width="0.8"/>
<line x1="553.44" y1="184" x2="553.44" y2="181.5" stroke="#2a2a2a" stroke-width="0.8"/>
<line x1="578.93" y1="184" x2="578.93" y2="182.5" stroke="#2a2a2a" stroke-width="0.8"/>
<line x1="604.42" y1="184" x2="604.42" y2="181.5" stroke="#2a2a2a" stroke-width="0.8"/>
<line x1="629.91" y1="184" x2="629.91" y2="182.5" stroke="#2a2a2a" stroke-width="0.8"/>
<line x1="655.4" y1="184" x2="655.4" y2="181.5" stroke="#2a2a2a" stroke-width="0.8"/>
<line x1="400.5" y1="26.6" x2="400.5" y2="29.1" stroke="#ff1a1a" stroke-width="0.8"/>
<line x1="425.99" y1="26.6" x2="425.99" y2="28.1" stroke="#ff1a1a" stroke-width="0.8"/>
<line x1="451.48" y1="26.6" x2="451.48" y2="29.1" stroke="#ff1a1a" stroke-width="0.8"/>
<line x1="476.97" y1="26.6" x2="476.97" y2="28.1" stroke="#ff1a1a" stroke-width="0.8"/>
<line x1="502.46" y1="26.6" x2="502.46" y2="29.1" stroke="#ff1a1a" stroke-width="0.8"/>
<line x1="527.95" y1="26.6" x2="527.95" y2="28.1" stroke="#ff1a1a" stroke-width="0.8"/>
<line x1="553.44" y1="26.6" x2="553.44" y2="29.1" stroke="#ff1a1a" stroke-width="0.8"/>
<line x1="578.93" y1="26.6" x2="578.93" y2="28.1" stroke="#ff1a1a" stroke-width="0.8"/>
<line x1="604.42" y1="26.6" x2="604.42" y2="29.1" stroke="#ff1a1a" stroke-width="0.8"/>
<line x1="629.91" y1="26.6" x2="629.91" y2="28.1" stroke="#ff1a1a" stroke-width="0.8"/>
<line x1="655.4" y1="26.6" x2="655.4" y2="29.1" stroke="#ff1a1a" stroke-width="0.8"/>
<line x1="400.5" y1="184.2" x2="403" y2="184.2" stroke="#2a2a2a" stroke-width="0.8"/>
<line x1="400.5" y1="165.6" x2="402" y2="165.6" stroke="#2a2a2a" stroke-width="0.8"/>
<line x1="400.5" y1="147" x2="403" y2="147" stroke="#2a2a2a" stroke-width="0.8"/>
<line x1="400.5" y1="128.4" x2="402" y2="128.4" stroke="#2a2a2a" stroke-width="0.8"/>
<line x1="400.5" y1="109.8" x2="403" y2="109.8" stroke="#2a2a2a" stroke-width="0.8"/>
<line x1="400.5" y1="91.2" x2="402" y2="91.2" stroke="#2a2a2a" stroke-width="0.8"/>
<line x1="400.5" y1="72.6" x2="403" y2="72.6" stroke="#2a2a2a" stroke-width="0.8"/>
<line x1="400.5" y1="54" x2="402" y2="54" stroke="#2a2a2a" stroke-width="0.8"/>
<line x1="400.5" y1="35.4" x2="403" y2="35.4" stroke="#2a2a2a" stroke-width="0.8"/>
<line x1="655.4" y1="26.3" x2="652.9" y2="26.3" stroke="#ff1a1a" stroke-width="0.8"/>
<line x1="655.4" y1="41.73" x2="653.9" y2="41.73" stroke="#ff1a1a" stroke-width="0.8"/>
<line x1="655.4" y1="57.16" x2="652.9" y2="57.16" stroke="#ff1a1a" stroke-width="0.8"/>
<line x1="655.4" y1="72.59" x2="653.9" y2="72.59" stroke="#ff1a1a" stroke-width="0.8"/>
<line x1="655.4" y1="88.02" x2="652.9" y2="88.02" stroke="#ff1a1a" stroke-width="0.8"/>
<line x1="655.4" y1="103.45" x2="653.9" y2="103.45" stroke="#ff1a1a" stroke-width="0.8"/>
<line x1="655.4" y1="118.88" x2="652.9" y2="118.88" stroke="#ff1a1a" stroke-width="0.8"/>
<line x1="655.4" y1="134.31" x2="653.9" y2="134.31" stroke="#ff1a1a" stroke-width="0.8"/>
<line x1="655.4" y1="149.74" x2="652.9" y2="149.74" stroke="#ff1a1a" stroke-width="0.8"/>
<line x1="655.4" y1="165.17" x2="653.9" y2="165.17" stroke="#ff1a1a" stroke-width="0.8"/>
<line x1="655.4" y1="180.6" x2="652.9" y2="180.6" stroke="#ff1a1a" stroke-width="0.8"/>
<text x="400.5" y="197.6" font-size="10.6" text-anchor="middle" fill="#000">0.0</text>
<text x="400.5" y="22.5" font-size="10.6" text-anchor="middle" fill="#ff1a1a">0</text>
<text x="451.48" y="197.6" font-size="10.6" text-anchor="middle" fill="#000">0.2</text>
<text x="451.48" y="22.5" font-size="10.6" text-anchor="middle" fill="#ff1a1a">1</text>
<text x="502.46" y="197.6" font-size="10.6" text-anchor="middle" fill="#000">0.4</text>
<text x="502.46" y="22.5" font-size="10.6" text-anchor="middle" fill="#ff1a1a">2</text>
<text x="553.44" y="197.6" font-size="10.6" text-anchor="middle" fill="#000">0.6</text>
<text x="553.44" y="22.5" font-size="10.6" text-anchor="middle" fill="#ff1a1a">3</text>
<text x="604.42" y="197.6" font-size="10.6" text-anchor="middle" fill="#000">0.8</text>
<text x="604.42" y="22.5" font-size="10.6" text-anchor="middle" fill="#ff1a1a">4</text>
<text x="655.4" y="197.6" font-size="10.6" text-anchor="middle" fill="#000">1.0</text>
<text x="655.4" y="22.5" font-size="10.6" text-anchor="middle" fill="#ff1a1a">5</text>
<text x="396.2" y="188.8" font-size="10.6" text-anchor="end" fill="#000">0.00</text>
<text x="396.2" y="151.6" font-size="10.6" text-anchor="end" fill="#000">-0.02</text>
<text x="396.2" y="114.4" font-size="10.6" text-anchor="end" fill="#000">-0.04</text>
<text x="396.2" y="77.2" font-size="10.6" text-anchor="end" fill="#000">-0.06</text>
<text x="396.2" y="40" font-size="10.6" text-anchor="end" fill="#000">-0.08</text>
<text x="658.8" y="29.7" font-size="10.6" text-anchor="start" fill="#ff1a1a">0</text>
<text x="658.8" y="60.56" font-size="10.6" text-anchor="start" fill="#ff1a1a">1</text>
<text x="658.8" y="91.42" font-size="10.6" text-anchor="start" fill="#ff1a1a">2</text>
<text x="658.8" y="122.28" font-size="10.6" text-anchor="start" fill="#ff1a1a">3</text>
<text x="658.8" y="153.14" font-size="10.6" text-anchor="start" fill="#ff1a1a">4</text>
<text x="658.8" y="184" font-size="10.6" text-anchor="start" fill="#ff1a1a">5</text>
<text x="527.8" y="211.1" font-size="10.45" text-anchor="middle" fill="#000">Time (s)</text>
<text x="527.8" y="8.6" font-size="10.45" text-anchor="middle" fill="#ff1a1a">Time (s)</text>
<text x="362.3" y="117.7" font-size="10.45" text-anchor="start" transform="rotate(-90 362.3 117.7)"><tspan font-style="italic">A</tspan><tspan font-size="6.5" font-style="italic" dy="2">I</tspan><tspan dy="-2"> (V)</tspan></text>
<text x="680.6" y="117.3" font-size="10.45" text-anchor="start" fill="#ff1a1a" transform="rotate(-90 680.6 117.3)"><tspan font-style="italic">V</tspan><tspan font-size="6.5" font-style="italic" dy="2">Q</tspan><tspan dy="-2"> (V)</tspan></text>
<text x="353" y="10.7" font-size="16" text-anchor="start" fill="#000" font-weight="bold">b</text>
<line x1="166.5" y1="238" x2="166.5" y2="337.3" stroke="#cdcdcd" stroke-width="0.85"/>
<line x1="188.5" y1="238" x2="188.5" y2="337.3" stroke="#dedede" stroke-width="0.8" stroke-dasharray="1,1.2"/>
<line x1="200.5" y1="238" x2="200.5" y2="337.3" stroke="#dedede" stroke-width="0.8" stroke-dasharray="1,1.2"/>
<line x1="209.5" y1="238" x2="209.5" y2="337.3" stroke="#dedede" stroke-width="0.8" stroke-dasharray="1,1.2"/>
<line x1="216.5" y1="238" x2="216.5" y2="337.3" stroke="#dedede" stroke-width="0.8" stroke-dasharray="1,1.2"/>
<line x1="222.5" y1="238" x2="222.5" y2="337.3" stroke="#dedede" stroke-width="0.8" stroke-dasharray="1,1.2"/>
<line x1="226.5" y1="238" x2="226.5" y2="337.3" stroke="#dedede" stroke-width="0.8" stroke-dasharray="1,1.2"/>
<line x1="231.5" y1="238" x2="231.5" y2="337.3" stroke="#dedede" stroke-width="0.8" stroke-dasharray="1,1.2"/>
<line x1="234.5" y1="238" x2="234.5" y2="337.3" stroke="#dedede" stroke-width="0.8" stroke-dasharray="1,1.2"/>
<line x1="238.5" y1="238" x2="238.5" y2="337.3" stroke="#cdcdcd" stroke-width="0.85"/>
<line x1="259.5" y1="238" x2="259.5" y2="337.3" stroke="#dedede" stroke-width="0.8" stroke-dasharray="1,1.2"/>
<line x1="272.5" y1="238" x2="272.5" y2="337.3" stroke="#dedede" stroke-width="0.8" stroke-dasharray="1,1.2"/>
<line x1="281.5" y1="238" x2="281.5" y2="337.3" stroke="#dedede" stroke-width="0.8" stroke-dasharray="1,1.2"/>
<line x1="287.5" y1="238" x2="287.5" y2="337.3" stroke="#dedede" stroke-width="0.8" stroke-dasharray="1,1.2"/>
<line x1="293.5" y1="238" x2="293.5" y2="337.3" stroke="#dedede" stroke-width="0.8" stroke-dasharray="1,1.2"/>
<line x1="298.5" y1="238" x2="298.5" y2="337.3" stroke="#dedede" stroke-width="0.8" stroke-dasharray="1,1.2"/>
<line x1="302.5" y1="238" x2="302.5" y2="337.3" stroke="#dedede" stroke-width="0.8" stroke-dasharray="1,1.2"/>
<line x1="306.5" y1="238" x2="306.5" y2="337.3" stroke="#dedede" stroke-width="0.8" stroke-dasharray="1,1.2"/>
<line x1="309.5" y1="238" x2="309.5" y2="337.3" stroke="#cdcdcd" stroke-width="0.85"/>
<line x1="331.5" y1="238" x2="331.5" y2="337.3" stroke="#dedede" stroke-width="0.8" stroke-dasharray="1,1.2"/>
<line x1="343.5" y1="238" x2="343.5" y2="337.3" stroke="#dedede" stroke-width="0.8" stroke-dasharray="1,1.2"/>
<line x1="352.5" y1="238" x2="352.5" y2="337.3" stroke="#dedede" stroke-width="0.8" stroke-dasharray="1,1.2"/>
<line x1="359.5" y1="238" x2="359.5" y2="337.3" stroke="#dedede" stroke-width="0.8" stroke-dasharray="1,1.2"/>
<line x1="365.5" y1="238" x2="365.5" y2="337.3" stroke="#dedede" stroke-width="0.8" stroke-dasharray="1,1.2"/>
<line x1="369.5" y1="238" x2="369.5" y2="337.3" stroke="#dedede" stroke-width="0.8" stroke-dasharray="1,1.2"/>
<line x1="374.5" y1="238" x2="374.5" y2="337.3" stroke="#dedede" stroke-width="0.8" stroke-dasharray="1,1.2"/>
<line x1="377.5" y1="238" x2="377.5" y2="337.3" stroke="#dedede" stroke-width="0.8" stroke-dasharray="1,1.2"/>
<line x1="381.5" y1="238" x2="381.5" y2="337.3" stroke="#cdcdcd" stroke-width="0.85"/>
<line x1="402.5" y1="238" x2="402.5" y2="337.3" stroke="#dedede" stroke-width="0.8" stroke-dasharray="1,1.2"/>
<line x1="415.5" y1="238" x2="415.5" y2="337.3" stroke="#dedede" stroke-width="0.8" stroke-dasharray="1,1.2"/>
<line x1="166.5" y1="337.3" x2="166.5" y2="437.2" stroke="#cdcdcd" stroke-width="0.85"/>
<line x1="188.5" y1="337.3" x2="188.5" y2="437.2" stroke="#dedede" stroke-width="0.8" stroke-dasharray="1,1.2"/>
<line x1="200.5" y1="337.3" x2="200.5" y2="437.2" stroke="#dedede" stroke-width="0.8" stroke-dasharray="1,1.2"/>
<line x1="209.5" y1="337.3" x2="209.5" y2="437.2" stroke="#dedede" stroke-width="0.8" stroke-dasharray="1,1.2"/>
<line x1="216.5" y1="337.3" x2="216.5" y2="437.2" stroke="#dedede" stroke-width="0.8" stroke-dasharray="1,1.2"/>
<line x1="222.5" y1="337.3" x2="222.5" y2="437.2" stroke="#dedede" stroke-width="0.8" stroke-dasharray="1,1.2"/>
<line x1="226.5" y1="337.3" x2="226.5" y2="437.2" stroke="#dedede" stroke-width="0.8" stroke-dasharray="1,1.2"/>
<line x1="231.5" y1="337.3" x2="231.5" y2="437.2" stroke="#dedede" stroke-width="0.8" stroke-dasharray="1,1.2"/>
<line x1="234.5" y1="337.3" x2="234.5" y2="437.2" stroke="#dedede" stroke-width="0.8" stroke-dasharray="1,1.2"/>
<line x1="238.5" y1="337.3" x2="238.5" y2="437.2" stroke="#cdcdcd" stroke-width="0.85"/>
<line x1="259.5" y1="337.3" x2="259.5" y2="437.2" stroke="#dedede" stroke-width="0.8" stroke-dasharray="1,1.2"/>
<line x1="272.5" y1="337.3" x2="272.5" y2="437.2" stroke="#dedede" stroke-width="0.8" stroke-dasharray="1,1.2"/>
<line x1="281.5" y1="337.3" x2="281.5" y2="437.2" stroke="#dedede" stroke-width="0.8" stroke-dasharray="1,1.2"/>
<line x1="287.5" y1="337.3" x2="287.5" y2="437.2" stroke="#dedede" stroke-width="0.8" stroke-dasharray="1,1.2"/>
<line x1="293.5" y1="337.3" x2="293.5" y2="437.2" stroke="#dedede" stroke-width="0.8" stroke-dasharray="1,1.2"/>
<line x1="298.5" y1="337.3" x2="298.5" y2="437.2" stroke="#dedede" stroke-width="0.8" stroke-dasharray="1,1.2"/>
<line x1="302.5" y1="337.3" x2="302.5" y2="437.2" stroke="#dedede" stroke-width="0.8" stroke-dasharray="1,1.2"/>
<line x1="306.5" y1="337.3" x2="306.5" y2="437.2" stroke="#dedede" stroke-width="0.8" stroke-dasharray="1,1.2"/>
<line x1="309.5" y1="337.3" x2="309.5" y2="437.2" stroke="#cdcdcd" stroke-width="0.85"/>
<line x1="331.5" y1="337.3" x2="331.5" y2="437.2" stroke="#dedede" stroke-width="0.8" stroke-dasharray="1,1.2"/>
<line x1="343.5" y1="337.3" x2="343.5" y2="437.2" stroke="#dedede" stroke-width="0.8" stroke-dasharray="1,1.2"/>
<line x1="352.5" y1="337.3" x2="352.5" y2="437.2" stroke="#dedede" stroke-width="0.8" stroke-dasharray="1,1.2"/>
<line x1="359.5" y1="337.3" x2="359.5" y2="437.2" stroke="#dedede" stroke-width="0.8" stroke-dasharray="1,1.2"/>
<line x1="365.5" y1="337.3" x2="365.5" y2="437.2" stroke="#dedede" stroke-width="0.8" stroke-dasharray="1,1.2"/>
<line x1="369.5" y1="337.3" x2="369.5" y2="437.2" stroke="#dedede" stroke-width="0.8" stroke-dasharray="1,1.2"/>
<line x1="374.5" y1="337.3" x2="374.5" y2="437.2" stroke="#dedede" stroke-width="0.8" stroke-dasharray="1,1.2"/>
<line x1="377.5" y1="337.3" x2="377.5" y2="437.2" stroke="#dedede" stroke-width="0.8" stroke-dasharray="1,1.2"/>
<line x1="381.5" y1="337.3" x2="381.5" y2="437.2" stroke="#cdcdcd" stroke-width="0.85"/>
<line x1="402.5" y1="337.3" x2="402.5" y2="437.2" stroke="#dedede" stroke-width="0.8" stroke-dasharray="1,1.2"/>
<line x1="415.5" y1="337.3" x2="415.5" y2="437.2" stroke="#dedede" stroke-width="0.8" stroke-dasharray="1,1.2"/>
<line x1="166.5" y1="246.5" x2="416.3" y2="246.5" stroke="#cdcdcd" stroke-width="0.85"/>
<line x1="166.5" y1="259.5" x2="416.3" y2="259.5" stroke="#dedede" stroke-width="0.8" stroke-dasharray="1,1.2"/>
<line x1="166.5" y1="271.5" x2="416.3" y2="271.5" stroke="#cdcdcd" stroke-width="0.85"/>
<line x1="166.5" y1="284.5" x2="416.3" y2="284.5" stroke="#dedede" stroke-width="0.8" stroke-dasharray="1,1.2"/>
<line x1="166.5" y1="297.5" x2="416.3" y2="297.5" stroke="#cdcdcd" stroke-width="0.85"/>
<line x1="166.5" y1="309.5" x2="416.3" y2="309.5" stroke="#dedede" stroke-width="0.8" stroke-dasharray="1,1.2"/>
<line x1="166.5" y1="322.5" x2="416.3" y2="322.5" stroke="#cdcdcd" stroke-width="0.85"/>
<line x1="166.5" y1="334.5" x2="416.3" y2="334.5" stroke="#dedede" stroke-width="0.8" stroke-dasharray="1,1.2"/>
<line x1="166.5" y1="342.5" x2="416.3" y2="342.5" stroke="#cdcdcd" stroke-width="0.85"/>
<line x1="166.5" y1="355.5" x2="416.3" y2="355.5" stroke="#dedede" stroke-width="0.8" stroke-dasharray="1,1.2"/>
<line x1="166.5" y1="367.5" x2="416.3" y2="367.5" stroke="#cdcdcd" stroke-width="0.85"/>
<line x1="166.5" y1="380.5" x2="416.3" y2="380.5" stroke="#dedede" stroke-width="0.8" stroke-dasharray="1,1.2"/>
<line x1="166.5" y1="393.5" x2="416.3" y2="393.5" stroke="#cdcdcd" stroke-width="0.85"/>
<line x1="166.5" y1="405.5" x2="416.3" y2="405.5" stroke="#dedede" stroke-width="0.8" stroke-dasharray="1,1.2"/>
<line x1="166.5" y1="418.5" x2="416.3" y2="418.5" stroke="#cdcdcd" stroke-width="0.85"/>
<line x1="166.5" y1="431.5" x2="416.3" y2="431.5" stroke="#dedede" stroke-width="0.8" stroke-dasharray="1,1.2"/>
<rect x="340.6" y="243.5" width="6" height="16.2" fill="none" stroke="#f5a431" stroke-width="1.4" stroke-dasharray="4.6,4.6"/>
<line x1="346.6" y1="243.5" x2="437.6" y2="273.3" stroke="#f5a431" stroke-width="1.4" stroke-dasharray="4.6,4.6"/>
<line x1="346.6" y1="259.7" x2="437.6" y2="354.7" stroke="#f5a431" stroke-width="1.4" stroke-dasharray="4.6,4.6"/>
<rect x="341" y="348.5" width="5.6" height="16.6" fill="none" stroke="#f5a431" stroke-width="1.4" stroke-dasharray="4.6,4.6"/>
<line x1="346.6" y1="348.5" x2="437.6" y2="372.6" stroke="#f5a431" stroke-width="1.4" stroke-dasharray="4.6,4.6"/>
<line x1="346.6" y1="365.1" x2="437.6" y2="452.8" stroke="#f5a431" stroke-width="1.4" stroke-dasharray="4.6,4.6"/>
<g clip-path="url(#cm)">
<path d="M166.5,246.8 C180.42,246.8 229.42,246.8 250,246.8 C270.58,246.8 280,246.77 290,246.8 C300,246.83 304.47,246.88 310,247 C315.53,247.12 319.17,247.1 323.2,247.5 C327.23,247.9 330.8,248.45 334.2,249.4 C337.6,250.35 340.77,251.82 343.6,253.2 C346.43,254.58 348.67,256.18 351.2,257.7 C353.73,259.22 356.28,260.9 358.8,262.3 C361.32,263.7 363.78,264.97 366.3,266.1 C368.82,267.23 371.62,268.42 373.9,269.1 C376.18,269.78 378.22,270.2 380,270.2 C381.78,270.2 383.2,270.17 384.6,269.1 C386,268.03 387.4,266.2 388.4,263.8 C389.4,261.4 390.07,257.23 390.6,254.7 C391.13,252.17 391.3,249.92 391.6,248.6 C391.9,247.28 392.12,246.85 392.4,246.8 C392.68,246.75 392.97,247.18 393.3,248.3 C393.63,249.42 393.83,250.92 394.4,253.5 C394.97,256.08 395.82,259.8 396.7,263.8 C397.58,267.8 398.73,273.3 399.7,277.5 C400.67,281.7 401.1,284.12 402.5,289 C403.9,293.88 406.07,300.15 408.1,306.8 C410.13,313.45 413.22,324.03 414.7,328.9 C416.18,333.77 416.62,334.82 417,336" stroke="#5e4a55" stroke-width="6.8" fill="none" stroke-linejoin="round" stroke-linecap="butt"/>
<path d="M166.5,246.8 C180.42,246.8 229.42,246.8 250,246.8 C270.58,246.8 280,246.77 290,246.8 C300,246.83 304.47,246.88 310,247 C315.53,247.12 319.17,247.1 323.2,247.5 C327.23,247.9 330.8,248.45 334.2,249.4 C337.6,250.35 340.77,251.82 343.6,253.2 C346.43,254.58 348.67,256.18 351.2,257.7 C353.73,259.22 356.28,260.9 358.8,262.3 C361.32,263.7 363.78,264.97 366.3,266.1 C368.82,267.23 371.62,268.42 373.9,269.1 C376.18,269.78 378.22,270.2 380,270.2 C381.78,270.2 383.2,270.17 384.6,269.1 C386,268.03 387.4,266.2 388.4,263.8 C389.4,261.4 390.07,257.23 390.6,254.7 C391.13,252.17 391.3,249.92 391.6,248.6 C391.9,247.28 392.12,246.85 392.4,246.8 C392.68,246.75 392.97,247.18 393.3,248.3 C393.63,249.42 393.83,250.92 394.4,253.5 C394.97,256.08 395.82,259.8 396.7,263.8 C397.58,267.8 398.73,273.3 399.7,277.5 C400.67,281.7 401.1,284.12 402.5,289 C403.9,293.88 406.07,300.15 408.1,306.8 C410.13,313.45 413.22,324.03 414.7,328.9 C416.18,333.77 416.62,334.82 417,336" stroke="#c9444f" stroke-width="5.6" fill="none" stroke-linejoin="round" stroke-linecap="butt"/>
<path d="M166.5,246.8 C180.42,246.8 229.42,246.8 250,246.8 C270.58,246.8 280,246.77 290,246.8 C300,246.83 304.47,246.88 310,247 C315.53,247.12 319.17,247.1 323.2,247.5 C327.23,247.9 330.8,248.45 334.2,249.4 C337.6,250.35 340.77,251.82 343.6,253.2 C346.43,254.58 348.67,256.18 351.2,257.7 C353.73,259.22 356.28,260.9 358.8,262.3 C361.32,263.7 363.78,264.97 366.3,266.1 C368.82,267.23 371.62,268.42 373.9,269.1 C376.18,269.78 378.22,270.2 380,270.2 C381.78,270.2 383.2,270.17 384.6,269.1 C386,268.03 387.4,266.2 388.4,263.8 C389.4,261.4 390.07,257.23 390.6,254.7 C391.13,252.17 391.3,249.92 391.6,248.6 C391.9,247.28 392.12,246.85 392.4,246.8 C392.68,246.75 392.97,247.18 393.3,248.3 C393.63,249.42 393.83,250.92 394.4,253.5 C394.97,256.08 395.82,259.8 396.7,263.8 C397.58,267.8 398.73,273.3 399.7,277.5 C400.67,281.7 401.1,284.12 402.5,289 C403.9,293.88 406.07,300.15 408.1,306.8 C410.13,313.45 413.22,324.03 414.7,328.9 C416.18,333.77 416.62,334.82 417,336" stroke="#2e6fd0" stroke-width="4.0" fill="none" stroke-linejoin="round" stroke-linecap="butt"/>
<path d="M166.5,246.8 C180.42,246.8 229.42,246.8 250,246.8 C270.58,246.8 280,246.77 290,246.8 C300,246.83 304.47,246.88 310,247 C315.53,247.12 319.17,247.1 323.2,247.5 C327.23,247.9 330.8,248.45 334.2,249.4 C337.6,250.35 340.77,251.82 343.6,253.2 C346.43,254.58 348.67,256.18 351.2,257.7 C353.73,259.22 356.28,260.9 358.8,262.3 C361.32,263.7 363.78,264.97 366.3,266.1 C368.82,267.23 371.62,268.42 373.9,269.1 C376.18,269.78 378.22,270.2 380,270.2 C381.78,270.2 383.2,270.17 384.6,269.1 C386,268.03 387.4,266.2 388.4,263.8 C389.4,261.4 390.07,257.23 390.6,254.7 C391.13,252.17 391.3,249.92 391.6,248.6 C391.9,247.28 392.12,246.85 392.4,246.8 C392.68,246.75 392.97,247.18 393.3,248.3 C393.63,249.42 393.83,250.92 394.4,253.5 C394.97,256.08 395.82,259.8 396.7,263.8 C397.58,267.8 398.73,273.3 399.7,277.5 C400.67,281.7 401.1,284.12 402.5,289 C403.9,293.88 406.07,300.15 408.1,306.8 C410.13,313.45 413.22,324.03 414.7,328.9 C416.18,333.77 416.62,334.82 417,336" stroke="#2f9a98" stroke-width="2.6" fill="none" stroke-linejoin="round" stroke-linecap="butt"/>
<path d="M166.5,246.8 C180.42,246.8 229.42,246.8 250,246.8 C270.58,246.8 280,246.77 290,246.8 C300,246.83 304.47,246.88 310,247 C315.53,247.12 319.17,247.1 323.2,247.5 C327.23,247.9 330.8,248.45 334.2,249.4 C337.6,250.35 340.77,251.82 343.6,253.2 C346.43,254.58 348.67,256.18 351.2,257.7 C353.73,259.22 356.28,260.9 358.8,262.3 C361.32,263.7 363.78,264.97 366.3,266.1 C368.82,267.23 371.62,268.42 373.9,269.1 C376.18,269.78 378.22,270.2 380,270.2 C381.78,270.2 383.2,270.17 384.6,269.1 C386,268.03 387.4,266.2 388.4,263.8 C389.4,261.4 390.07,257.23 390.6,254.7 C391.13,252.17 391.3,249.92 391.6,248.6 C391.9,247.28 392.12,246.85 392.4,246.8 C392.68,246.75 392.97,247.18 393.3,248.3 C393.63,249.42 393.83,250.92 394.4,253.5 C394.97,256.08 395.82,259.8 396.7,263.8 C397.58,267.8 398.73,273.3 399.7,277.5 C400.67,281.7 401.1,284.12 402.5,289 C403.9,293.88 406.07,300.15 408.1,306.8 C410.13,313.45 413.22,324.03 414.7,328.9 C416.18,333.77 416.62,334.82 417,336" stroke="#6f8ca0" stroke-width="0.8" fill="none" stroke-linejoin="round" stroke-linecap="butt"/>
</g>
<g clip-path="url(#cp)">
<path d="M166.5,342.2 C177.08,342.25 214.8,342.38 230,342.5 C245.2,342.62 248.45,342.5 257.7,342.9 C266.95,343.3 276.72,344.1 285.5,344.9 C294.28,345.7 303.47,346.42 310.4,347.7 C317.33,348.98 322,350.85 327.1,352.6 C332.2,354.35 336.38,356.35 341,358.2 C345.62,360.05 350.18,361.85 354.8,363.7 C359.42,365.55 365.17,367.85 368.7,369.3 C372.23,370.75 373.95,371.4 376,372.4 C378.05,373.4 379.58,374.38 381,375.3 C382.42,376.22 383.43,376.92 384.5,377.9 C385.57,378.88 386.55,379.92 387.4,381.2 C388.25,382.48 389.03,384.05 389.6,385.6 C390.17,387.15 390.48,388.77 390.8,390.5 C391.12,392.23 391.27,394.25 391.5,396 C391.73,397.75 391.88,399.57 392.2,401 C392.52,402.43 392.85,403.5 393.4,404.6 C393.95,405.7 394.73,406.65 395.5,407.6 C396.27,408.55 396.95,409.1 398,410.3 C399.05,411.5 400.52,413.18 401.8,414.8 C403.08,416.42 404.33,418.13 405.7,420 C407.07,421.87 408.57,424 410,426 C411.43,428 413.05,430.23 414.3,432 C415.55,433.77 416.97,435.83 417.5,436.6" stroke="#5e4a55" stroke-width="6.8" fill="none" stroke-linejoin="round" stroke-linecap="butt"/>
<path d="M166.5,342.2 C177.08,342.25 214.8,342.38 230,342.5 C245.2,342.62 248.45,342.5 257.7,342.9 C266.95,343.3 276.72,344.1 285.5,344.9 C294.28,345.7 303.47,346.42 310.4,347.7 C317.33,348.98 322,350.85 327.1,352.6 C332.2,354.35 336.38,356.35 341,358.2 C345.62,360.05 350.18,361.85 354.8,363.7 C359.42,365.55 365.17,367.85 368.7,369.3 C372.23,370.75 373.95,371.4 376,372.4 C378.05,373.4 379.58,374.38 381,375.3 C382.42,376.22 383.43,376.92 384.5,377.9 C385.57,378.88 386.55,379.92 387.4,381.2 C388.25,382.48 389.03,384.05 389.6,385.6 C390.17,387.15 390.48,388.77 390.8,390.5 C391.12,392.23 391.27,394.25 391.5,396 C391.73,397.75 391.88,399.57 392.2,401 C392.52,402.43 392.85,403.5 393.4,404.6 C393.95,405.7 394.73,406.65 395.5,407.6 C396.27,408.55 396.95,409.1 398,410.3 C399.05,411.5 400.52,413.18 401.8,414.8 C403.08,416.42 404.33,418.13 405.7,420 C407.07,421.87 408.57,424 410,426 C411.43,428 413.05,430.23 414.3,432 C415.55,433.77 416.97,435.83 417.5,436.6" stroke="#c9444f" stroke-width="5.6" fill="none" stroke-linejoin="round" stroke-linecap="butt"/>
<path d="M166.5,342.2 C177.08,342.25 214.8,342.38 230,342.5 C245.2,342.62 248.45,342.5 257.7,342.9 C266.95,343.3 276.72,344.1 285.5,344.9 C294.28,345.7 303.47,346.42 310.4,347.7 C317.33,348.98 322,350.85 327.1,352.6 C332.2,354.35 336.38,356.35 341,358.2 C345.62,360.05 350.18,361.85 354.8,363.7 C359.42,365.55 365.17,367.85 368.7,369.3 C372.23,370.75 373.95,371.4 376,372.4 C378.05,373.4 379.58,374.38 381,375.3 C382.42,376.22 383.43,376.92 384.5,377.9 C385.57,378.88 386.55,379.92 387.4,381.2 C388.25,382.48 389.03,384.05 389.6,385.6 C390.17,387.15 390.48,388.77 390.8,390.5 C391.12,392.23 391.27,394.25 391.5,396 C391.73,397.75 391.88,399.57 392.2,401 C392.52,402.43 392.85,403.5 393.4,404.6 C393.95,405.7 394.73,406.65 395.5,407.6 C396.27,408.55 396.95,409.1 398,410.3 C399.05,411.5 400.52,413.18 401.8,414.8 C403.08,416.42 404.33,418.13 405.7,420 C407.07,421.87 408.57,424 410,426 C411.43,428 413.05,430.23 414.3,432 C415.55,433.77 416.97,435.83 417.5,436.6" stroke="#2e6fd0" stroke-width="4.0" fill="none" stroke-linejoin="round" stroke-linecap="butt"/>
<path d="M166.5,342.2 C177.08,342.25 214.8,342.38 230,342.5 C245.2,342.62 248.45,342.5 257.7,342.9 C266.95,343.3 276.72,344.1 285.5,344.9 C294.28,345.7 303.47,346.42 310.4,347.7 C317.33,348.98 322,350.85 327.1,352.6 C332.2,354.35 336.38,356.35 341,358.2 C345.62,360.05 350.18,361.85 354.8,363.7 C359.42,365.55 365.17,367.85 368.7,369.3 C372.23,370.75 373.95,371.4 376,372.4 C378.05,373.4 379.58,374.38 381,375.3 C382.42,376.22 383.43,376.92 384.5,377.9 C385.57,378.88 386.55,379.92 387.4,381.2 C388.25,382.48 389.03,384.05 389.6,385.6 C390.17,387.15 390.48,388.77 390.8,390.5 C391.12,392.23 391.27,394.25 391.5,396 C391.73,397.75 391.88,399.57 392.2,401 C392.52,402.43 392.85,403.5 393.4,404.6 C393.95,405.7 394.73,406.65 395.5,407.6 C396.27,408.55 396.95,409.1 398,410.3 C399.05,411.5 400.52,413.18 401.8,414.8 C403.08,416.42 404.33,418.13 405.7,420 C407.07,421.87 408.57,424 410,426 C411.43,428 413.05,430.23 414.3,432 C415.55,433.77 416.97,435.83 417.5,436.6" stroke="#2f9a98" stroke-width="2.6" fill="none" stroke-linejoin="round" stroke-linecap="butt"/>
<path d="M166.5,342.2 C177.08,342.25 214.8,342.38 230,342.5 C245.2,342.62 248.45,342.5 257.7,342.9 C266.95,343.3 276.72,344.1 285.5,344.9 C294.28,345.7 303.47,346.42 310.4,347.7 C317.33,348.98 322,350.85 327.1,352.6 C332.2,354.35 336.38,356.35 341,358.2 C345.62,360.05 350.18,361.85 354.8,363.7 C359.42,365.55 365.17,367.85 368.7,369.3 C372.23,370.75 373.95,371.4 376,372.4 C378.05,373.4 379.58,374.38 381,375.3 C382.42,376.22 383.43,376.92 384.5,377.9 C385.57,378.88 386.55,379.92 387.4,381.2 C388.25,382.48 389.03,384.05 389.6,385.6 C390.17,387.15 390.48,388.77 390.8,390.5 C391.12,392.23 391.27,394.25 391.5,396 C391.73,397.75 391.88,399.57 392.2,401 C392.52,402.43 392.85,403.5 393.4,404.6 C393.95,405.7 394.73,406.65 395.5,407.6 C396.27,408.55 396.95,409.1 398,410.3 C399.05,411.5 400.52,413.18 401.8,414.8 C403.08,416.42 404.33,418.13 405.7,420 C407.07,421.87 408.57,424 410,426 C411.43,428 413.05,430.23 414.3,432 C415.55,433.77 416.97,435.83 417.5,436.6" stroke="#6f8ca0" stroke-width="0.8" fill="none" stroke-linejoin="round" stroke-linecap="butt"/>
</g>
<rect x="166.5" y="238" width="249.8" height="99.3" fill="none" stroke="#2a2a2a" stroke-width="0.9"/>
<line x1="166.5" y1="337.3" x2="166.5" y2="334.8" stroke="#2a2a2a" stroke-width="0.7"/>
<line x1="166.5" y1="238" x2="166.5" y2="240.5" stroke="#2a2a2a" stroke-width="0.7"/>
<line x1="188.02" y1="337.3" x2="188.02" y2="335.8" stroke="#2a2a2a" stroke-width="0.7"/>
<line x1="188.02" y1="238" x2="188.02" y2="239.5" stroke="#2a2a2a" stroke-width="0.7"/>
<line x1="200.61" y1="337.3" x2="200.61" y2="335.8" stroke="#2a2a2a" stroke-width="0.7"/>
<line x1="200.61" y1="238" x2="200.61" y2="239.5" stroke="#2a2a2a" stroke-width="0.7"/>
<line x1="209.55" y1="337.3" x2="209.55" y2="335.8" stroke="#2a2a2a" stroke-width="0.7"/>
<line x1="209.55" y1="238" x2="209.55" y2="239.5" stroke="#2a2a2a" stroke-width="0.7"/>
<line x1="216.48" y1="337.3" x2="216.48" y2="335.8" stroke="#2a2a2a" stroke-width="0.7"/>
<line x1="216.48" y1="238" x2="216.48" y2="239.5" stroke="#2a2a2a" stroke-width="0.7"/>
<line x1="222.14" y1="337.3" x2="222.14" y2="335.8" stroke="#2a2a2a" stroke-width="0.7"/>
<line x1="222.14" y1="238" x2="222.14" y2="239.5" stroke="#2a2a2a" stroke-width="0.7"/>
<line x1="226.92" y1="337.3" x2="226.92" y2="335.8" stroke="#2a2a2a" stroke-width="0.7"/>
<line x1="226.92" y1="238" x2="226.92" y2="239.5" stroke="#2a2a2a" stroke-width="0.7"/>
<line x1="231.07" y1="337.3" x2="231.07" y2="335.8" stroke="#2a2a2a" stroke-width="0.7"/>
<line x1="231.07" y1="238" x2="231.07" y2="239.5" stroke="#2a2a2a" stroke-width="0.7"/>
<line x1="234.73" y1="337.3" x2="234.73" y2="335.8" stroke="#2a2a2a" stroke-width="0.7"/>
<line x1="234.73" y1="238" x2="234.73" y2="239.5" stroke="#2a2a2a" stroke-width="0.7"/>
<line x1="238" y1="337.3" x2="238" y2="334.8" stroke="#2a2a2a" stroke-width="0.7"/>
<line x1="238" y1="238" x2="238" y2="240.5" stroke="#2a2a2a" stroke-width="0.7"/>
<line x1="259.52" y1="337.3" x2="259.52" y2="335.8" stroke="#2a2a2a" stroke-width="0.7"/>
<line x1="259.52" y1="238" x2="259.52" y2="239.5" stroke="#2a2a2a" stroke-width="0.7"/>
<line x1="272.11" y1="337.3" x2="272.11" y2="335.8" stroke="#2a2a2a" stroke-width="0.7"/>
<line x1="272.11" y1="238" x2="272.11" y2="239.5" stroke="#2a2a2a" stroke-width="0.7"/>
<line x1="281.05" y1="337.3" x2="281.05" y2="335.8" stroke="#2a2a2a" stroke-width="0.7"/>
<line x1="281.05" y1="238" x2="281.05" y2="239.5" stroke="#2a2a2a" stroke-width="0.7"/>
<line x1="287.98" y1="337.3" x2="287.98" y2="335.8" stroke="#2a2a2a" stroke-width="0.7"/>
<line x1="287.98" y1="238" x2="287.98" y2="239.5" stroke="#2a2a2a" stroke-width="0.7"/>
<line x1="293.64" y1="337.3" x2="293.64" y2="335.8" stroke="#2a2a2a" stroke-width="0.7"/>
<line x1="293.64" y1="238" x2="293.64" y2="239.5" stroke="#2a2a2a" stroke-width="0.7"/>
<line x1="298.42" y1="337.3" x2="298.42" y2="335.8" stroke="#2a2a2a" stroke-width="0.7"/>
<line x1="298.42" y1="238" x2="298.42" y2="239.5" stroke="#2a2a2a" stroke-width="0.7"/>
<line x1="302.57" y1="337.3" x2="302.57" y2="335.8" stroke="#2a2a2a" stroke-width="0.7"/>
<line x1="302.57" y1="238" x2="302.57" y2="239.5" stroke="#2a2a2a" stroke-width="0.7"/>
<line x1="306.23" y1="337.3" x2="306.23" y2="335.8" stroke="#2a2a2a" stroke-width="0.7"/>
<line x1="306.23" y1="238" x2="306.23" y2="239.5" stroke="#2a2a2a" stroke-width="0.7"/>
<line x1="309.5" y1="337.3" x2="309.5" y2="334.8" stroke="#2a2a2a" stroke-width="0.7"/>
<line x1="309.5" y1="238" x2="309.5" y2="240.5" stroke="#2a2a2a" stroke-width="0.7"/>
<line x1="331.02" y1="337.3" x2="331.02" y2="335.8" stroke="#2a2a2a" stroke-width="0.7"/>
<line x1="331.02" y1="238" x2="331.02" y2="239.5" stroke="#2a2a2a" stroke-width="0.7"/>
<line x1="343.61" y1="337.3" x2="343.61" y2="335.8" stroke="#2a2a2a" stroke-width="0.7"/>
<line x1="343.61" y1="238" x2="343.61" y2="239.5" stroke="#2a2a2a" stroke-width="0.7"/>
<line x1="352.55" y1="337.3" x2="352.55" y2="335.8" stroke="#2a2a2a" stroke-width="0.7"/>
<line x1="352.55" y1="238" x2="352.55" y2="239.5" stroke="#2a2a2a" stroke-width="0.7"/>
<line x1="359.48" y1="337.3" x2="359.48" y2="335.8" stroke="#2a2a2a" stroke-width="0.7"/>
<line x1="359.48" y1="238" x2="359.48" y2="239.5" stroke="#2a2a2a" stroke-width="0.7"/>
<line x1="365.14" y1="337.3" x2="365.14" y2="335.8" stroke="#2a2a2a" stroke-width="0.7"/>
<line x1="365.14" y1="238" x2="365.14" y2="239.5" stroke="#2a2a2a" stroke-width="0.7"/>
<line x1="369.92" y1="337.3" x2="369.92" y2="335.8" stroke="#2a2a2a" stroke-width="0.7"/>
<line x1="369.92" y1="238" x2="369.92" y2="239.5" stroke="#2a2a2a" stroke-width="0.7"/>
<line x1="374.07" y1="337.3" x2="374.07" y2="335.8" stroke="#2a2a2a" stroke-width="0.7"/>
<line x1="374.07" y1="238" x2="374.07" y2="239.5" stroke="#2a2a2a" stroke-width="0.7"/>
<line x1="377.73" y1="337.3" x2="377.73" y2="335.8" stroke="#2a2a2a" stroke-width="0.7"/>
<line x1="377.73" y1="238" x2="377.73" y2="239.5" stroke="#2a2a2a" stroke-width="0.7"/>
<line x1="381" y1="337.3" x2="381" y2="334.8" stroke="#2a2a2a" stroke-width="0.7"/>
<line x1="381" y1="238" x2="381" y2="240.5" stroke="#2a2a2a" stroke-width="0.7"/>
<line x1="402.52" y1="337.3" x2="402.52" y2="335.8" stroke="#2a2a2a" stroke-width="0.7"/>
<line x1="402.52" y1="238" x2="402.52" y2="239.5" stroke="#2a2a2a" stroke-width="0.7"/>
<line x1="415.11" y1="337.3" x2="415.11" y2="335.8" stroke="#2a2a2a" stroke-width="0.7"/>
<line x1="415.11" y1="238" x2="415.11" y2="239.5" stroke="#2a2a2a" stroke-width="0.7"/>
<rect x="166.5" y="337.3" width="249.8" height="99.9" fill="none" stroke="#2a2a2a" stroke-width="0.9"/>
<line x1="166.5" y1="437.2" x2="166.5" y2="434.7" stroke="#2a2a2a" stroke-width="0.7"/>
<line x1="166.5" y1="337.3" x2="166.5" y2="339.8" stroke="#2a2a2a" stroke-width="0.7"/>
<line x1="188.02" y1="437.2" x2="188.02" y2="435.7" stroke="#2a2a2a" stroke-width="0.7"/>
<line x1="188.02" y1="337.3" x2="188.02" y2="338.8" stroke="#2a2a2a" stroke-width="0.7"/>
<line x1="200.61" y1="437.2" x2="200.61" y2="435.7" stroke="#2a2a2a" stroke-width="0.7"/>
<line x1="200.61" y1="337.3" x2="200.61" y2="338.8" stroke="#2a2a2a" stroke-width="0.7"/>
<line x1="209.55" y1="437.2" x2="209.55" y2="435.7" stroke="#2a2a2a" stroke-width="0.7"/>
<line x1="209.55" y1="337.3" x2="209.55" y2="338.8" stroke="#2a2a2a" stroke-width="0.7"/>
<line x1="216.48" y1="437.2" x2="216.48" y2="435.7" stroke="#2a2a2a" stroke-width="0.7"/>
<line x1="216.48" y1="337.3" x2="216.48" y2="338.8" stroke="#2a2a2a" stroke-width="0.7"/>
<line x1="222.14" y1="437.2" x2="222.14" y2="435.7" stroke="#2a2a2a" stroke-width="0.7"/>
<line x1="222.14" y1="337.3" x2="222.14" y2="338.8" stroke="#2a2a2a" stroke-width="0.7"/>
<line x1="226.92" y1="437.2" x2="226.92" y2="435.7" stroke="#2a2a2a" stroke-width="0.7"/>
<line x1="226.92" y1="337.3" x2="226.92" y2="338.8" stroke="#2a2a2a" stroke-width="0.7"/>
<line x1="231.07" y1="437.2" x2="231.07" y2="435.7" stroke="#2a2a2a" stroke-width="0.7"/>
<line x1="231.07" y1="337.3" x2="231.07" y2="338.8" stroke="#2a2a2a" stroke-width="0.7"/>
<line x1="234.73" y1="437.2" x2="234.73" y2="435.7" stroke="#2a2a2a" stroke-width="0.7"/>
<line x1="234.73" y1="337.3" x2="234.73" y2="338.8" stroke="#2a2a2a" stroke-width="0.7"/>
<line x1="238" y1="437.2" x2="238" y2="434.7" stroke="#2a2a2a" stroke-width="0.7"/>
<line x1="238" y1="337.3" x2="238" y2="339.8" stroke="#2a2a2a" stroke-width="0.7"/>
<line x1="259.52" y1="437.2" x2="259.52" y2="435.7" stroke="#2a2a2a" stroke-width="0.7"/>
<line x1="259.52" y1="337.3" x2="259.52" y2="338.8" stroke="#2a2a2a" stroke-width="0.7"/>
<line x1="272.11" y1="437.2" x2="272.11" y2="435.7" stroke="#2a2a2a" stroke-width="0.7"/>
<line x1="272.11" y1="337.3" x2="272.11" y2="338.8" stroke="#2a2a2a" stroke-width="0.7"/>
<line x1="281.05" y1="437.2" x2="281.05" y2="435.7" stroke="#2a2a2a" stroke-width="0.7"/>
<line x1="281.05" y1="337.3" x2="281.05" y2="338.8" stroke="#2a2a2a" stroke-width="0.7"/>
<line x1="287.98" y1="437.2" x2="287.98" y2="435.7" stroke="#2a2a2a" stroke-width="0.7"/>
<line x1="287.98" y1="337.3" x2="287.98" y2="338.8" stroke="#2a2a2a" stroke-width="0.7"/>
<line x1="293.64" y1="437.2" x2="293.64" y2="435.7" stroke="#2a2a2a" stroke-width="0.7"/>
<line x1="293.64" y1="337.3" x2="293.64" y2="338.8" stroke="#2a2a2a" stroke-width="0.7"/>
<line x1="298.42" y1="437.2" x2="298.42" y2="435.7" stroke="#2a2a2a" stroke-width="0.7"/>
<line x1="298.42" y1="337.3" x2="298.42" y2="338.8" stroke="#2a2a2a" stroke-width="0.7"/>
<line x1="302.57" y1="437.2" x2="302.57" y2="435.7" stroke="#2a2a2a" stroke-width="0.7"/>
<line x1="302.57" y1="337.3" x2="302.57" y2="338.8" stroke="#2a2a2a" stroke-width="0.7"/>
<line x1="306.23" y1="437.2" x2="306.23" y2="435.7" stroke="#2a2a2a" stroke-width="0.7"/>
<line x1="306.23" y1="337.3" x2="306.23" y2="338.8" stroke="#2a2a2a" stroke-width="0.7"/>
<line x1="309.5" y1="437.2" x2="309.5" y2="434.7" stroke="#2a2a2a" stroke-width="0.7"/>
<line x1="309.5" y1="337.3" x2="309.5" y2="339.8" stroke="#2a2a2a" stroke-width="0.7"/>
<line x1="331.02" y1="437.2" x2="331.02" y2="435.7" stroke="#2a2a2a" stroke-width="0.7"/>
<line x1="331.02" y1="337.3" x2="331.02" y2="338.8" stroke="#2a2a2a" stroke-width="0.7"/>
<line x1="343.61" y1="437.2" x2="343.61" y2="435.7" stroke="#2a2a2a" stroke-width="0.7"/>
<line x1="343.61" y1="337.3" x2="343.61" y2="338.8" stroke="#2a2a2a" stroke-width="0.7"/>
<line x1="352.55" y1="437.2" x2="352.55" y2="435.7" stroke="#2a2a2a" stroke-width="0.7"/>
<line x1="352.55" y1="337.3" x2="352.55" y2="338.8" stroke="#2a2a2a" stroke-width="0.7"/>
<line x1="359.48" y1="437.2" x2="359.48" y2="435.7" stroke="#2a2a2a" stroke-width="0.7"/>
<line x1="359.48" y1="337.3" x2="359.48" y2="338.8" stroke="#2a2a2a" stroke-width="0.7"/>
<line x1="365.14" y1="437.2" x2="365.14" y2="435.7" stroke="#2a2a2a" stroke-width="0.7"/>
<line x1="365.14" y1="337.3" x2="365.14" y2="338.8" stroke="#2a2a2a" stroke-width="0.7"/>
<line x1="369.92" y1="437.2" x2="369.92" y2="435.7" stroke="#2a2a2a" stroke-width="0.7"/>
<line x1="369.92" y1="337.3" x2="369.92" y2="338.8" stroke="#2a2a2a" stroke-width="0.7"/>
<line x1="374.07" y1="437.2" x2="374.07" y2="435.7" stroke="#2a2a2a" stroke-width="0.7"/>
<line x1="374.07" y1="337.3" x2="374.07" y2="338.8" stroke="#2a2a2a" stroke-width="0.7"/>
<line x1="377.73" y1="437.2" x2="377.73" y2="435.7" stroke="#2a2a2a" stroke-width="0.7"/>
<line x1="377.73" y1="337.3" x2="377.73" y2="338.8" stroke="#2a2a2a" stroke-width="0.7"/>
<line x1="381" y1="437.2" x2="381" y2="434.7" stroke="#2a2a2a" stroke-width="0.7"/>
<line x1="381" y1="337.3" x2="381" y2="339.8" stroke="#2a2a2a" stroke-width="0.7"/>
<line x1="402.52" y1="437.2" x2="402.52" y2="435.7" stroke="#2a2a2a" stroke-width="0.7"/>
<line x1="402.52" y1="337.3" x2="402.52" y2="338.8" stroke="#2a2a2a" stroke-width="0.7"/>
<line x1="415.11" y1="437.2" x2="415.11" y2="435.7" stroke="#2a2a2a" stroke-width="0.7"/>
<line x1="415.11" y1="337.3" x2="415.11" y2="338.8" stroke="#2a2a2a" stroke-width="0.7"/>
<line x1="166.5" y1="246.7" x2="169" y2="246.7" stroke="#2a2a2a" stroke-width="0.7"/>
<line x1="416.3" y1="246.7" x2="413.8" y2="246.7" stroke="#2a2a2a" stroke-width="0.7"/>
<line x1="166.5" y1="259.3" x2="168" y2="259.3" stroke="#2a2a2a" stroke-width="0.7"/>
<line x1="416.3" y1="259.3" x2="414.8" y2="259.3" stroke="#2a2a2a" stroke-width="0.7"/>
<line x1="166.5" y1="271.9" x2="169" y2="271.9" stroke="#2a2a2a" stroke-width="0.7"/>
<line x1="416.3" y1="271.9" x2="413.8" y2="271.9" stroke="#2a2a2a" stroke-width="0.7"/>
<line x1="166.5" y1="284.5" x2="168" y2="284.5" stroke="#2a2a2a" stroke-width="0.7"/>
<line x1="416.3" y1="284.5" x2="414.8" y2="284.5" stroke="#2a2a2a" stroke-width="0.7"/>
<line x1="166.5" y1="297.1" x2="169" y2="297.1" stroke="#2a2a2a" stroke-width="0.7"/>
<line x1="416.3" y1="297.1" x2="413.8" y2="297.1" stroke="#2a2a2a" stroke-width="0.7"/>
<line x1="166.5" y1="309.7" x2="168" y2="309.7" stroke="#2a2a2a" stroke-width="0.7"/>
<line x1="416.3" y1="309.7" x2="414.8" y2="309.7" stroke="#2a2a2a" stroke-width="0.7"/>
<line x1="166.5" y1="322.3" x2="169" y2="322.3" stroke="#2a2a2a" stroke-width="0.7"/>
<line x1="416.3" y1="322.3" x2="413.8" y2="322.3" stroke="#2a2a2a" stroke-width="0.7"/>
<line x1="166.5" y1="334.9" x2="168" y2="334.9" stroke="#2a2a2a" stroke-width="0.7"/>
<line x1="416.3" y1="334.9" x2="414.8" y2="334.9" stroke="#2a2a2a" stroke-width="0.7"/>
<line x1="166.5" y1="342.5" x2="169" y2="342.5" stroke="#2a2a2a" stroke-width="0.7"/>
<line x1="416.3" y1="342.5" x2="413.8" y2="342.5" stroke="#2a2a2a" stroke-width="0.7"/>
<line x1="166.5" y1="355.15" x2="168" y2="355.15" stroke="#2a2a2a" stroke-width="0.7"/>
<line x1="416.3" y1="355.15" x2="414.8" y2="355.15" stroke="#2a2a2a" stroke-width="0.7"/>
<line x1="166.5" y1="367.8" x2="169" y2="367.8" stroke="#2a2a2a" stroke-width="0.7"/>
<line x1="416.3" y1="367.8" x2="413.8" y2="367.8" stroke="#2a2a2a" stroke-width="0.7"/>
<line x1="166.5" y1="380.45" x2="168" y2="380.45" stroke="#2a2a2a" stroke-width="0.7"/>
<line x1="416.3" y1="380.45" x2="414.8" y2="380.45" stroke="#2a2a2a" stroke-width="0.7"/>
<line x1="166.5" y1="393.1" x2="169" y2="393.1" stroke="#2a2a2a" stroke-width="0.7"/>
<line x1="416.3" y1="393.1" x2="413.8" y2="393.1" stroke="#2a2a2a" stroke-width="0.7"/>
<line x1="166.5" y1="405.75" x2="168" y2="405.75" stroke="#2a2a2a" stroke-width="0.7"/>
<line x1="416.3" y1="405.75" x2="414.8" y2="405.75" stroke="#2a2a2a" stroke-width="0.7"/>
<line x1="166.5" y1="418.4" x2="169" y2="418.4" stroke="#2a2a2a" stroke-width="0.7"/>
<line x1="416.3" y1="418.4" x2="413.8" y2="418.4" stroke="#2a2a2a" stroke-width="0.7"/>
<line x1="166.5" y1="431.05" x2="168" y2="431.05" stroke="#2a2a2a" stroke-width="0.7"/>
<line x1="416.3" y1="431.05" x2="414.8" y2="431.05" stroke="#2a2a2a" stroke-width="0.7"/>
<text x="160.2" y="251.6" font-size="10.6" text-anchor="end" fill="#000">0</text>
<text x="160.2" y="276.8" font-size="10.6" text-anchor="end" fill="#000">-14</text>
<text x="160.2" y="302" font-size="10.6" text-anchor="end" fill="#000">-28</text>
<text x="160.2" y="327.2" font-size="10.6" text-anchor="end" fill="#000">-42</text>
<text x="160.2" y="347.4" font-size="10.6" text-anchor="end" fill="#000">0</text>
<text x="160.2" y="372.7" font-size="10.6" text-anchor="end" fill="#000">-170</text>
<text x="160.2" y="398" font-size="10.6" text-anchor="end" fill="#000">-340</text>
<text x="160.2" y="423.3" font-size="10.6" text-anchor="end" fill="#000">-510</text>
<text x="166.5" y="451.5" font-size="10.6" text-anchor="middle" fill="#000">0.1</text>
<text x="238" y="451.5" font-size="10.6" text-anchor="middle" fill="#000">1</text>
<text x="309.5" y="451.5" font-size="10.6" text-anchor="middle" fill="#000">10</text>
<text x="381" y="451.5" font-size="10.6" text-anchor="middle" fill="#000">100</text>
<text x="291.2" y="467.1" font-size="10.45" text-anchor="middle" fill="#000">Frequency (Hz)</text>
<text x="130.1" y="321.7" font-size="10.45" text-anchor="start" fill="#000" transform="rotate(-90 130.1 321.7)">Magnitude (dB)</text>
<text x="125.6" y="422" font-size="10.45" text-anchor="start" fill="#000" transform="rotate(-90 125.6 422)">Phase (degree)</text>
<text x="116.6" y="241.7" font-size="16" text-anchor="start" fill="#000" font-weight="bold">c</text>
<rect x="417.3" y="237.3" width="149.6" height="26.5" fill="#fff" stroke="#8a8a8a" stroke-width="0.9"/>
<line x1="417.6" y1="240.8" x2="417.6" y2="262" stroke="#7a7a7a" stroke-width="2.0"/>
<text x="419.9" y="248.6" font-size="7.4" fill="#7a7a7a"><tspan font-style="italic">φ</tspan><tspan font-size="3.8" font-style="italic" dy="1.6">set1</tspan><tspan dy="-1.6">=0°</tspan></text>
<text x="419.9" y="256.8" font-size="7.4" fill="#7a7a7a"><tspan font-style="italic">φ</tspan><tspan font-size="3.8" font-style="italic" dy="1.6">set2</tspan><tspan dy="-1.6">=0°</tspan></text>
<line x1="444.5" y1="240.8" x2="444.5" y2="262" stroke="#ef4f58" stroke-width="1.3"/>
<text x="446.8" y="248.6" font-size="7.4" fill="#ef4f58"><tspan font-style="italic">φ</tspan><tspan font-size="3.8" font-style="italic" dy="1.6">set1</tspan><tspan dy="-1.6">=-1°</tspan></text>
<text x="446.8" y="256.8" font-size="7.4" fill="#ef4f58"><tspan font-style="italic">φ</tspan><tspan font-size="3.8" font-style="italic" dy="1.6">set2</tspan><tspan dy="-1.6">=0°</tspan></text>
<line x1="473.3" y1="240.8" x2="473.3" y2="262" stroke="#3878da" stroke-width="1.3"/>
<text x="475.6" y="248.6" font-size="7.4" fill="#3878da"><tspan font-style="italic">φ</tspan><tspan font-size="3.8" font-style="italic" dy="1.6">set1</tspan><tspan dy="-1.6">=0°</tspan></text>
<text x="475.6" y="256.8" font-size="7.4" fill="#3878da"><tspan font-style="italic">φ</tspan><tspan font-size="3.8" font-style="italic" dy="1.6">set2</tspan><tspan dy="-1.6">=-2.5°</tspan></text>
<line x1="509.6" y1="240.8" x2="509.6" y2="262" stroke="#4bb277" stroke-width="1.3"/>
<text x="511.4" y="248.6" font-size="7.4" fill="#4bb277"><tspan font-style="italic">φ</tspan><tspan font-size="3.8" font-style="italic" dy="1.6">set1</tspan><tspan dy="-1.6">=-2°</tspan></text>
<text x="511.4" y="256.8" font-size="7.4" fill="#4bb277"><tspan font-style="italic">φ</tspan><tspan font-size="3.8" font-style="italic" dy="1.6">set2</tspan><tspan dy="-1.6">=-3°</tspan></text>
<line x1="538.2" y1="240.8" x2="538.2" y2="262" stroke="#b47ae6" stroke-width="1.3"/>
<text x="540.2" y="248.6" font-size="7.4" fill="#b47ae6"><tspan font-style="italic">φ</tspan><tspan font-size="3.8" font-style="italic" dy="1.6">set1</tspan><tspan dy="-1.6">=-6°</tspan></text>
<text x="540.2" y="256.8" font-size="7.4" fill="#b47ae6"><tspan font-style="italic">φ</tspan><tspan font-size="3.8" font-style="italic" dy="1.6">set2</tspan><tspan dy="-1.6">=-4°</tspan></text>
<rect x="437.6" y="273.3" width="124" height="81.4" fill="#fff" stroke="none" stroke-width="1"/>
<line x1="451.38" y1="273.3" x2="451.38" y2="354.7" stroke="#ececec" stroke-width="0.5"/>
<line x1="465.16" y1="273.3" x2="465.16" y2="354.7" stroke="#ececec" stroke-width="0.5"/>
<line x1="478.93" y1="273.3" x2="478.93" y2="354.7" stroke="#ececec" stroke-width="0.5"/>
<line x1="492.71" y1="273.3" x2="492.71" y2="354.7" stroke="#ececec" stroke-width="0.5"/>
<line x1="506.49" y1="273.3" x2="506.49" y2="354.7" stroke="#ececec" stroke-width="0.5"/>
<line x1="520.27" y1="273.3" x2="520.27" y2="354.7" stroke="#ececec" stroke-width="0.5"/>
<line x1="534.04" y1="273.3" x2="534.04" y2="354.7" stroke="#ececec" stroke-width="0.5"/>
<line x1="547.82" y1="273.3" x2="547.82" y2="354.7" stroke="#ececec" stroke-width="0.5"/>
<line x1="437.6" y1="291.5" x2="561.6" y2="291.5" stroke="#cdcdcd" stroke-width="0.85"/>
<line x1="437.6" y1="316.5" x2="561.6" y2="316.5" stroke="#cdcdcd" stroke-width="0.85"/>
<line x1="437.6" y1="342.5" x2="561.6" y2="342.5" stroke="#cdcdcd" stroke-width="0.85"/>
<g clip-path="url(#ci273)">
<path d="M437.6,274.6 L561.6,352" stroke="#7a4450" stroke-width="4.0" fill="none" stroke-linejoin="round" stroke-linecap="butt"/>
<path d="M437.6,274.6 L561.6,352" stroke="#a85468" stroke-width="3.0" fill="none" stroke-linejoin="round" stroke-linecap="butt"/>
<path d="M437.6,274.6 L561.6,352" stroke="#5670c6" stroke-width="2.2" fill="none" stroke-linejoin="round" stroke-linecap="butt"/>
<path d="M437.6,274.6 L561.6,352" stroke="#7c7fd2" stroke-width="0.9" fill="none" stroke-linejoin="round" stroke-linecap="butt"/>
</g>
<rect x="437.6" y="273.3" width="124" height="81.4" fill="none" stroke="#666" stroke-width="0.8"/>
<line x1="451.38" y1="354.7" x2="451.38" y2="353.2" stroke="#666" stroke-width="0.6"/>
<line x1="451.38" y1="273.3" x2="451.38" y2="274.8" stroke="#666" stroke-width="0.6"/>
<line x1="465.16" y1="354.7" x2="465.16" y2="353.2" stroke="#666" stroke-width="0.6"/>
<line x1="465.16" y1="273.3" x2="465.16" y2="274.8" stroke="#666" stroke-width="0.6"/>
<line x1="478.93" y1="354.7" x2="478.93" y2="353.2" stroke="#666" stroke-width="0.6"/>
<line x1="478.93" y1="273.3" x2="478.93" y2="274.8" stroke="#666" stroke-width="0.6"/>
<line x1="492.71" y1="354.7" x2="492.71" y2="353.2" stroke="#666" stroke-width="0.6"/>
<line x1="492.71" y1="273.3" x2="492.71" y2="274.8" stroke="#666" stroke-width="0.6"/>
<line x1="506.49" y1="354.7" x2="506.49" y2="353.2" stroke="#666" stroke-width="0.6"/>
<line x1="506.49" y1="273.3" x2="506.49" y2="274.8" stroke="#666" stroke-width="0.6"/>
<line x1="520.27" y1="354.7" x2="520.27" y2="353.2" stroke="#666" stroke-width="0.6"/>
<line x1="520.27" y1="273.3" x2="520.27" y2="274.8" stroke="#666" stroke-width="0.6"/>
<line x1="534.04" y1="354.7" x2="534.04" y2="353.2" stroke="#666" stroke-width="0.6"/>
<line x1="534.04" y1="273.3" x2="534.04" y2="274.8" stroke="#666" stroke-width="0.6"/>
<line x1="547.82" y1="354.7" x2="547.82" y2="353.2" stroke="#666" stroke-width="0.6"/>
<line x1="547.82" y1="273.3" x2="547.82" y2="274.8" stroke="#666" stroke-width="0.6"/>
<text x="434.6" y="294.7" font-size="9.3" text-anchor="end" fill="#000">-3.0</text>
<line x1="437.6" y1="291.4" x2="439.6" y2="291.4" stroke="#666" stroke-width="0.6"/>
<text x="434.6" y="320.1" font-size="9.3" text-anchor="end" fill="#000">-3.1</text>
<line x1="437.6" y1="316.8" x2="439.6" y2="316.8" stroke="#666" stroke-width="0.6"/>
<text x="434.6" y="345.4" font-size="9.3" text-anchor="end" fill="#000">-3.2</text>
<line x1="437.6" y1="342.1" x2="439.6" y2="342.1" stroke="#666" stroke-width="0.6"/>
<text x="437.6" y="365.5" font-size="9.3" text-anchor="middle" fill="#000">29</text>
<text x="561.6" y="365.5" font-size="9.3" text-anchor="middle" fill="#000">30</text>
<rect x="437.6" y="372.6" width="124" height="80.2" fill="#fff" stroke="none" stroke-width="1"/>
<line x1="451.38" y1="372.6" x2="451.38" y2="452.8" stroke="#ececec" stroke-width="0.5"/>
<line x1="465.16" y1="372.6" x2="465.16" y2="452.8" stroke="#ececec" stroke-width="0.5"/>
<line x1="478.93" y1="372.6" x2="478.93" y2="452.8" stroke="#ececec" stroke-width="0.5"/>
<line x1="492.71" y1="372.6" x2="492.71" y2="452.8" stroke="#ececec" stroke-width="0.5"/>
<line x1="506.49" y1="372.6" x2="506.49" y2="452.8" stroke="#ececec" stroke-width="0.5"/>
<line x1="520.27" y1="372.6" x2="520.27" y2="452.8" stroke="#ececec" stroke-width="0.5"/>
<line x1="534.04" y1="372.6" x2="534.04" y2="452.8" stroke="#ececec" stroke-width="0.5"/>
<line x1="547.82" y1="372.6" x2="547.82" y2="452.8" stroke="#ececec" stroke-width="0.5"/>
<line x1="437.6" y1="392.5" x2="561.6" y2="392.5" stroke="#cdcdcd" stroke-width="0.85"/>
<line x1="437.6" y1="433.5" x2="561.6" y2="433.5" stroke="#cdcdcd" stroke-width="0.85"/>
<g clip-path="url(#ci372)">
<path d="M437.6,379.2 L561.6,443.3" stroke="#7a4450" stroke-width="4.0" fill="none" stroke-linejoin="round" stroke-linecap="butt"/>
<path d="M437.6,379.2 L561.6,443.3" stroke="#a85468" stroke-width="3.0" fill="none" stroke-linejoin="round" stroke-linecap="butt"/>
<path d="M437.6,379.2 L561.6,443.3" stroke="#5670c6" stroke-width="2.2" fill="none" stroke-linejoin="round" stroke-linecap="butt"/>
<path d="M437.6,379.2 L561.6,443.3" stroke="#7c7fd2" stroke-width="0.9" fill="none" stroke-linejoin="round" stroke-linecap="butt"/>
</g>
<rect x="437.6" y="372.6" width="124" height="80.2" fill="none" stroke="#666" stroke-width="0.8"/>
<line x1="451.38" y1="452.8" x2="451.38" y2="451.3" stroke="#666" stroke-width="0.6"/>
<line x1="451.38" y1="372.6" x2="451.38" y2="374.1" stroke="#666" stroke-width="0.6"/>
<line x1="465.16" y1="452.8" x2="465.16" y2="451.3" stroke="#666" stroke-width="0.6"/>
<line x1="465.16" y1="372.6" x2="465.16" y2="374.1" stroke="#666" stroke-width="0.6"/>
<line x1="478.93" y1="452.8" x2="478.93" y2="451.3" stroke="#666" stroke-width="0.6"/>
<line x1="478.93" y1="372.6" x2="478.93" y2="374.1" stroke="#666" stroke-width="0.6"/>
<line x1="492.71" y1="452.8" x2="492.71" y2="451.3" stroke="#666" stroke-width="0.6"/>
<line x1="492.71" y1="372.6" x2="492.71" y2="374.1" stroke="#666" stroke-width="0.6"/>
<line x1="506.49" y1="452.8" x2="506.49" y2="451.3" stroke="#666" stroke-width="0.6"/>
<line x1="506.49" y1="372.6" x2="506.49" y2="374.1" stroke="#666" stroke-width="0.6"/>
<line x1="520.27" y1="452.8" x2="520.27" y2="451.3" stroke="#666" stroke-width="0.6"/>
<line x1="520.27" y1="372.6" x2="520.27" y2="374.1" stroke="#666" stroke-width="0.6"/>
<line x1="534.04" y1="452.8" x2="534.04" y2="451.3" stroke="#666" stroke-width="0.6"/>
<line x1="534.04" y1="372.6" x2="534.04" y2="374.1" stroke="#666" stroke-width="0.6"/>
<line x1="547.82" y1="452.8" x2="547.82" y2="451.3" stroke="#666" stroke-width="0.6"/>
<line x1="547.82" y1="372.6" x2="547.82" y2="374.1" stroke="#666" stroke-width="0.6"/>
<text x="434.6" y="395.9" font-size="9.3" text-anchor="end" fill="#000">-112</text>
<line x1="437.6" y1="392.6" x2="439.6" y2="392.6" stroke="#666" stroke-width="0.6"/>
<text x="434.6" y="437" font-size="9.3" text-anchor="end" fill="#000">-114</text>
<line x1="437.6" y1="433.7" x2="439.6" y2="433.7" stroke="#666" stroke-width="0.6"/>
<text x="437.6" y="466.8" font-size="9.3" text-anchor="middle" fill="#000">29</text>
<text x="561.6" y="466.8" font-size="9.3" text-anchor="middle" fill="#000">30</text>
</svg></body></html>
